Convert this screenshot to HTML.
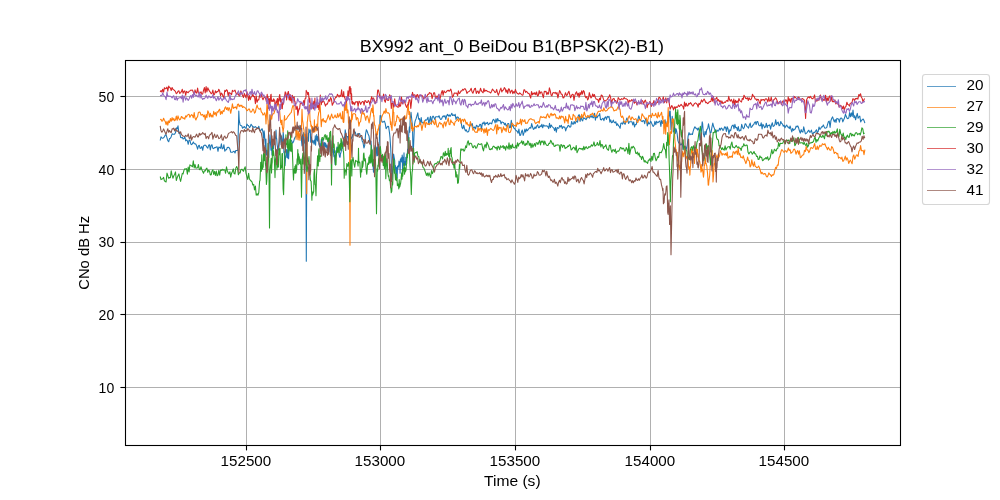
<!DOCTYPE html>
<html><head><meta charset="utf-8"><title>BX992 ant_0 BeiDou B1(BPSK(2)-B1)</title>
<style>
html,body{margin:0;padding:0;background:#fff;}
body{width:1000px;height:500px;overflow:hidden;font-family:"Liberation Sans",sans-serif;}
svg{display:block;will-change:transform;}
text{font-family:"Liberation Sans",sans-serif;fill:#000;}
.g line{stroke:#b0b0b0;stroke-width:1;}
.t line{stroke:#000;stroke-width:1.1;}
.d path{fill:none;stroke-width:1.08;stroke-linejoin:round;stroke-linecap:butt;}
.lab text{font-size:14.2px;}
.leg text{font-size:14.2px;}
</style></head><body>
<svg width="1000" height="500" viewBox="0 0 1000 500">
<rect x="0" y="0" width="1000" height="500" fill="#ffffff"/>
<g class="g"><line x1="246.50" y1="60.5" x2="246.50" y2="445.5"/><line x1="380.50" y1="60.5" x2="380.50" y2="445.5"/><line x1="515.50" y1="60.5" x2="515.50" y2="445.5"/><line x1="650.50" y1="60.5" x2="650.50" y2="445.5"/><line x1="784.50" y1="60.5" x2="784.50" y2="445.5"/><line x1="125.5" y1="387.50" x2="900.5" y2="387.50"/><line x1="125.5" y1="314.50" x2="900.5" y2="314.50"/><line x1="125.5" y1="242.50" x2="900.5" y2="242.50"/><line x1="125.5" y1="169.50" x2="900.5" y2="169.50"/><line x1="125.5" y1="96.50" x2="900.5" y2="96.50"/></g>
<clipPath id="c"><rect x="125.5" y="60.5" width="775" height="385"/></clipPath>
<g class="d" clip-path="url(#c)">
<path d="M160.2,140.5 L161.0,136.8 L161.9,138.0 L162.7,138.2 L163.6,137.7 L164.4,136.8 L165.3,134.9 L166.1,134.8 L167.0,137.9 L167.8,140.6 L168.7,141.8 L169.5,138.6 L170.4,138.2 L171.2,136.7 L172.1,133.8 L172.9,134.3 L173.8,134.2 L174.6,134.1 L175.5,132.8 L176.3,127.8 L177.2,128.9 L178.0,125.8 L178.9,133.4 L179.7,132.2 L180.6,137.4 L181.4,137.7 L182.3,137.3 L183.1,139.0 L184.0,138.6 L184.8,136.7 L185.7,140.9 L186.5,139.9 L187.4,140.9 L188.2,144.3 L189.1,140.2 L189.9,140.0 L190.8,144.0 L191.6,144.7 L192.5,143.7 L193.3,141.9 L194.2,143.6 L195.0,143.7 L195.9,144.3 L196.7,146.1 L197.6,149.2 L198.4,146.0 L199.3,145.3 L200.1,148.4 L201.0,148.1 L201.8,146.5 L202.7,150.3 L203.5,146.2 L204.4,145.2 L205.2,145.1 L206.1,145.8 L206.9,147.2 L207.8,148.2 L208.6,145.3 L209.5,144.7 L210.3,150.0 L211.2,145.2 L212.0,144.8 L212.9,148.3 L213.7,148.6 L214.6,147.5 L215.4,147.6 L216.3,147.0 L217.1,146.8 L218.0,151.3 L218.8,147.0 L219.7,147.5 L220.5,148.3 L221.4,143.9 L222.2,148.9 L223.1,148.3 L223.9,144.7 L224.8,151.3 L225.6,149.8 L226.5,149.7 L227.3,147.5 L228.2,147.2 L229.0,147.6 L229.9,149.0 L230.7,152.2 L231.6,152.3 L232.4,152.2 L233.3,151.6 L234.1,151.3 L235.0,153.0 L235.8,150.5 L236.7,150.5 L237.8,150.4 L238.4,126.5 L238.8,111.1 L239.2,119.6 L240.0,124.8 L240.9,125.6 L241.8,126.0 L242.6,128.2 L243.5,127.3 L244.3,126.5 L245.2,128.1 L246.0,128.3 L246.9,124.1 L247.7,125.3 L248.6,125.6 L249.4,127.6 L250.3,126.6 L251.1,124.3 L252.0,125.5 L252.8,127.1 L253.7,126.9 L254.5,127.4 L255.4,126.6 L256.2,127.4 L257.1,127.9 L257.9,128.6 L258.8,126.2 L259.6,130.1 L260.5,131.3 L261.3,129.5 L262.2,128.8 L263.0,132.4 L263.4,138.0 L263.8,138.1 L264.1,130.9 L264.5,134.1 L264.8,139.6 L265.2,143.6 L265.6,147.4 L265.9,139.1 L266.3,154.9 L266.6,154.2 L267.0,150.3 L267.4,156.3 L268.0,154.1 L268.4,154.5 L268.8,157.6 L269.2,144.1 L269.5,141.9 L270.0,134.9 L270.6,144.9 L271.0,150.3 L271.7,148.3 L272.0,154.9 L272.4,145.7 L272.8,151.0 L273.1,145.2 L273.5,148.6 L273.8,143.9 L274.2,140.3 L274.6,136.8 L274.9,139.4 L275.3,136.8 L275.7,138.3 L276.0,130.0 L276.4,138.0 L276.7,139.0 L277.1,144.5 L277.5,146.9 L277.8,153.6 L278.2,149.5 L278.5,149.8 L278.9,148.3 L279.3,142.6 L279.6,142.4 L280.0,133.0 L280.3,135.3 L280.7,134.4 L281.1,144.5 L281.4,136.0 L281.8,141.6 L282.1,140.4 L282.5,142.5 L282.9,137.9 L283.2,132.4 L283.6,137.1 L283.9,152.7 L284.3,151.3 L284.7,160.3 L285.0,165.8 L285.4,159.4 L285.7,155.9 L286.1,157.5 L286.5,149.6 L286.8,150.8 L287.2,154.2 L287.5,158.0 L287.9,148.0 L288.3,147.7 L288.6,158.8 L289.0,151.4 L289.3,150.8 L289.7,145.4 L290.1,145.7 L290.9,140.2 L291.8,140.9 L292.6,143.1 L293.5,141.8 L294.3,139.0 L295.2,136.9 L296.0,136.9 L296.9,128.8 L297.7,129.0 L298.6,126.2 L299.4,129.5 L300.3,125.7 L300.6,135.8 L301.0,135.9 L302.0,146.0 L302.4,135.9 L302.8,143.2 L303.1,145.0 L303.5,132.5 L304.0,134.7 L304.6,143.2 L304.9,140.3 L305.3,153.9 L305.9,150.7 L306.3,261.2 L306.8,150.8 L307.5,137.0 L307.8,138.3 L308.2,133.3 L308.5,141.3 L308.9,129.0 L309.3,132.4 L309.6,132.3 L310.0,132.3 L310.3,129.7 L310.7,142.2 L311.1,136.9 L311.4,137.0 L311.8,139.9 L312.1,142.7 L313.0,140.4 L313.8,143.2 L314.2,144.2 L314.6,139.9 L314.9,142.9 L315.3,135.9 L315.6,145.2 L316.0,138.3 L316.4,139.4 L316.7,134.6 L317.1,139.9 L317.4,141.1 L317.8,136.6 L318.2,139.8 L318.5,136.9 L318.9,144.6 L319.2,145.2 L319.6,146.7 L320.0,145.8 L320.3,147.7 L320.7,143.3 L321.0,142.4 L321.4,139.2 L321.8,140.3 L322.1,139.3 L322.5,139.3 L322.8,140.9 L323.2,146.7 L323.6,144.1 L323.9,146.7 L324.3,142.5 L324.6,146.0 L325.0,142.7 L325.4,146.8 L325.7,143.4 L326.1,147.6 L326.4,145.5 L326.8,145.1 L327.2,145.8 L327.5,150.4 L327.9,147.0 L328.2,149.2 L328.6,140.9 L329.0,145.8 L329.3,142.2 L329.7,147.2 L330.0,152.0 L330.4,147.9 L330.8,140.9 L331.1,145.5 L331.5,150.6 L331.8,147.8 L332.2,147.6 L332.6,147.8 L332.9,152.4 L333.3,148.6 L333.6,154.5 L334.0,156.8 L334.4,155.0 L334.7,157.8 L335.1,164.4 L335.4,158.3 L335.8,150.9 L336.2,153.4 L336.5,152.4 L336.9,147.1 L337.2,151.2 L337.6,149.1 L338.0,147.5 L338.3,147.1 L338.7,147.6 L339.0,154.0 L339.4,156.0 L339.8,157.3 L340.1,157.2 L340.5,153.3 L340.8,153.2 L341.2,151.3 L341.6,149.6 L341.9,143.8 L342.3,146.4 L342.6,144.1 L343.0,141.9 L343.4,144.0 L343.7,145.0 L344.1,137.0 L344.4,138.2 L344.8,136.6 L345.2,129.8 L346.0,134.6 L346.9,136.7 L347.7,136.6 L348.6,143.4 L349.4,144.2 L350.3,141.1 L351.1,137.1 L352.0,138.4 L352.8,134.4 L353.7,133.9 L354.5,131.5 L355.4,132.3 L356.2,136.0 L357.1,135.2 L357.9,133.5 L358.8,134.2 L359.6,133.5 L360.5,136.6 L361.3,137.2 L362.2,140.9 L363.0,142.5 L363.9,148.0 L364.7,145.5 L365.6,133.8 L366.4,129.7 L367.3,131.6 L368.1,134.0 L369.0,135.9 L369.8,142.1 L371.0,141.0 L371.5,147.8 L371.9,150.8 L372.2,163.5 L372.6,164.5 L372.9,163.1 L373.5,172.1 L374.0,164.0 L374.4,157.8 L375.0,145.8 L375.5,145.5 L375.8,148.8 L376.2,156.0 L376.5,152.2 L376.9,147.6 L377.3,146.8 L377.6,155.8 L378.0,151.7 L378.3,145.8 L378.7,147.6 L379.1,146.5 L379.4,139.9 L379.8,123.2 L380.1,115.6 L381.0,115.7 L381.8,121.5 L382.7,122.2 L383.5,121.8 L384.4,121.1 L385.2,123.4 L386.1,128.7 L386.9,127.4 L387.8,126.2 L388.6,126.6 L389.5,132.9 L390.0,137.6 L390.7,148.1 L391.1,157.6 L391.4,165.4 L392.0,179.6 L392.5,173.3 L392.9,166.7 L393.2,165.7 L393.6,154.0 L394.0,156.6 L394.7,160.6 L395.0,168.9 L395.4,165.6 L396.0,173.8 L396.5,167.8 L396.8,167.2 L397.2,177.9 L397.5,166.2 L397.9,168.7 L398.3,165.4 L398.6,166.8 L399.0,161.1 L399.3,162.5 L399.7,162.3 L400.1,173.3 L400.4,159.2 L400.8,161.2 L401.1,157.7 L401.5,162.0 L401.9,160.4 L402.2,155.1 L402.6,171.5 L402.9,157.1 L403.3,158.1 L403.7,165.3 L404.0,152.9 L404.4,165.4 L404.7,161.3 L405.1,163.5 L405.5,165.2 L405.8,157.3 L406.2,162.2 L406.5,161.5 L406.9,154.1 L407.3,155.9 L407.6,149.1 L408.0,150.6 L408.3,141.6 L408.7,135.3 L409.1,130.3 L409.4,126.8 L409.8,132.3 L410.1,120.5 L411.0,112.2 L411.8,119.8 L412.5,126.3 L413.0,154.2 L413.5,147.4 L414.5,124.3 L415.2,120.9 L416.1,118.7 L416.9,115.8 L417.8,112.8 L418.6,119.3 L419.5,118.6 L420.3,124.8 L421.2,117.5 L422.0,123.0 L422.9,122.8 L423.7,122.7 L424.6,121.6 L425.4,119.9 L426.3,120.1 L427.1,119.3 L428.0,117.3 L428.8,124.4 L429.7,119.6 L430.5,116.4 L431.4,124.3 L432.2,117.4 L433.1,116.1 L433.9,117.4 L434.8,119.6 L435.6,116.9 L436.5,116.8 L437.3,116.8 L438.2,117.1 L439.0,115.7 L439.9,118.3 L440.7,119.4 L441.6,119.0 L442.4,116.9 L443.3,115.9 L444.1,116.9 L445.0,115.6 L445.8,119.5 L446.7,115.7 L447.5,114.4 L448.4,116.1 L449.2,114.9 L450.1,116.4 L450.9,115.0 L451.8,113.3 L452.6,115.5 L453.5,114.9 L454.3,115.7 L455.2,114.3 L456.0,119.4 L456.9,117.1 L457.7,117.0 L458.6,117.9 L459.4,119.4 L460.3,119.0 L461.1,122.1 L462.0,127.6 L462.8,128.7 L463.7,125.2 L464.5,128.5 L465.4,130.9 L466.2,129.8 L467.1,131.9 L467.9,132.0 L468.8,131.2 L469.6,127.4 L470.5,123.8 L471.3,125.3 L472.2,123.6 L473.0,127.1 L473.9,128.3 L474.7,126.9 L475.6,128.9 L476.4,125.3 L477.3,126.0 L478.1,126.9 L479.0,126.3 L479.8,124.4 L480.7,124.6 L481.5,129.2 L482.4,123.0 L483.2,123.7 L484.1,121.9 L484.9,125.2 L485.8,122.9 L486.6,123.5 L487.5,122.4 L488.3,124.8 L489.2,123.9 L490.0,122.9 L490.9,123.3 L491.7,123.9 L492.6,120.7 L493.4,119.4 L494.3,120.4 L495.1,122.9 L496.0,118.8 L496.8,122.2 L497.7,118.5 L498.5,120.7 L499.4,120.6 L500.2,120.6 L501.1,123.9 L501.9,121.9 L502.8,122.3 L503.6,122.5 L504.5,124.7 L505.3,123.2 L506.2,126.2 L507.0,125.0 L507.9,123.5 L508.7,123.5 L509.6,127.8 L510.4,127.4 L511.3,120.4 L512.1,126.1 L513.0,125.3 L513.8,128.1 L514.7,128.5 L515.5,129.9 L516.4,130.8 L517.2,131.3 L518.1,133.2 L518.9,129.1 L519.8,135.5 L520.6,135.2 L521.5,131.8 L522.3,130.0 L523.2,135.4 L524.0,132.9 L524.9,129.1 L525.7,132.1 L526.6,129.0 L527.4,130.7 L528.3,129.5 L529.1,128.3 L530.0,127.5 L530.8,128.2 L531.7,123.6 L532.5,126.8 L533.4,129.4 L534.2,128.8 L535.1,126.9 L535.9,128.4 L536.8,126.0 L537.6,124.7 L538.5,127.6 L539.3,127.6 L540.2,125.7 L541.0,126.8 L541.9,124.3 L542.7,127.8 L543.6,124.9 L544.4,125.9 L545.3,126.0 L546.1,125.8 L547.0,126.0 L547.8,126.5 L548.7,128.6 L549.5,123.3 L550.4,127.6 L551.2,125.0 L552.1,126.5 L552.9,127.4 L553.8,128.2 L554.6,130.6 L555.5,127.4 L556.3,132.1 L557.2,127.5 L558.0,128.2 L558.9,128.2 L559.7,125.6 L560.6,126.9 L561.4,125.3 L562.3,128.6 L563.1,126.6 L564.0,127.3 L564.8,127.1 L565.7,130.9 L566.5,128.2 L567.4,127.1 L568.2,125.3 L569.1,126.0 L569.9,127.3 L570.8,126.6 L571.6,121.5 L572.5,123.9 L573.3,124.2 L574.2,121.5 L575.0,123.8 L575.9,121.9 L576.7,121.1 L577.6,122.1 L578.4,115.2 L579.3,114.8 L580.1,121.4 L581.0,116.0 L581.8,119.8 L582.7,120.9 L583.5,117.7 L584.4,118.2 L585.2,118.8 L586.1,119.6 L586.9,117.8 L587.8,117.7 L588.6,116.0 L589.5,118.1 L590.3,115.7 L591.2,117.2 L592.0,115.4 L592.9,117.7 L593.7,117.6 L594.6,113.2 L595.4,120.1 L596.3,115.5 L597.1,117.7 L598.0,115.7 L598.8,115.7 L599.7,113.6 L600.5,119.6 L601.4,119.9 L602.2,118.9 L603.1,118.3 L603.9,120.7 L604.8,117.7 L605.6,116.9 L606.5,119.4 L607.3,116.3 L608.2,117.1 L609.0,116.3 L609.9,122.2 L610.7,119.8 L611.6,122.8 L612.4,122.3 L613.3,120.1 L614.1,122.3 L615.0,122.9 L615.8,121.7 L616.7,125.4 L617.5,123.8 L618.4,125.4 L619.2,126.5 L620.1,128.3 L620.9,123.2 L621.8,123.0 L622.6,124.1 L623.5,121.1 L624.3,123.6 L625.2,124.2 L626.0,120.7 L626.9,118.0 L627.7,120.0 L628.6,123.4 L629.4,121.7 L630.3,121.8 L631.1,121.8 L632.0,121.8 L632.8,124.9 L633.7,121.9 L634.5,127.0 L635.4,124.4 L636.2,124.6 L637.1,120.6 L637.9,119.6 L638.8,115.9 L639.6,118.7 L640.5,120.0 L641.3,121.0 L642.2,121.6 L643.0,120.6 L643.9,120.8 L644.7,123.7 L645.6,119.0 L646.4,118.9 L647.3,125.9 L648.1,121.8 L649.0,124.1 L649.8,123.0 L650.7,121.2 L651.5,122.9 L652.4,125.1 L653.2,126.5 L654.1,125.3 L654.9,121.3 L655.8,124.6 L656.6,121.3 L657.5,122.8 L658.3,122.4 L659.2,121.4 L660.0,120.9 L660.9,126.5 L661.7,120.3 L662.6,123.4 L663.4,120.8 L664.3,121.8 L665.1,119.7 L666.0,126.4 L666.8,125.3 L667.2,121.0 L667.6,123.3 L667.9,123.3 L668.3,115.8 L668.6,122.8 L669.0,117.4 L669.4,115.4 L669.7,111.0 L670.2,111.1 L671.0,130.0 L671.5,126.5 L672.2,116.4 L672.6,119.6 L673.0,123.7 L673.3,131.9 L673.7,131.2 L674.0,127.8 L674.4,131.4 L674.8,128.0 L675.1,133.6 L675.5,133.2 L675.8,128.7 L676.2,129.1 L677.1,133.4 L677.9,140.6 L678.8,143.1 L679.6,142.1 L680.5,144.9 L681.3,144.8 L682.2,142.9 L683.0,149.4 L683.9,146.1 L684.7,146.3 L685.6,146.7 L686.4,149.3 L687.3,144.8 L688.1,136.1 L689.0,132.6 L689.8,134.8 L690.7,134.0 L691.5,134.1 L692.4,134.5 L693.2,131.2 L694.1,128.4 L694.9,126.7 L695.8,128.2 L696.6,128.3 L697.5,130.0 L698.3,127.9 L699.2,130.6 L700.0,140.2 L700.6,139.6 L701.7,127.6 L702.2,121.9 L702.6,123.4 L703.4,134.2 L703.8,134.9 L704.3,136.9 L705.1,131.4 L706.0,134.7 L706.8,129.4 L707.7,128.7 L708.5,123.8 L709.4,128.4 L710.2,133.1 L711.1,132.3 L711.9,127.4 L712.8,123.0 L713.6,126.5 L714.5,128.6 L715.3,132.2 L716.2,132.2 L717.0,130.1 L717.9,131.2 L718.7,130.6 L719.6,128.2 L720.4,130.1 L721.3,128.0 L722.1,128.6 L723.0,130.6 L723.8,129.2 L724.7,126.8 L725.5,127.2 L726.4,131.4 L727.2,126.7 L728.1,129.0 L728.9,134.1 L729.8,129.9 L730.6,130.8 L731.5,127.1 L732.3,125.4 L733.2,125.1 L734.0,128.6 L734.9,124.4 L735.7,127.7 L736.6,127.4 L737.4,130.4 L738.3,126.5 L739.1,131.2 L740.0,130.0 L740.8,130.6 L741.7,124.3 L742.5,127.0 L743.4,128.8 L744.2,127.7 L745.1,123.8 L745.9,124.1 L746.8,126.4 L747.6,126.9 L748.5,128.1 L749.3,125.3 L750.2,123.1 L751.0,127.5 L751.9,126.9 L752.7,125.3 L753.6,124.8 L754.4,122.9 L755.3,121.7 L756.1,124.6 L757.0,121.5 L757.8,121.6 L758.7,124.9 L759.5,125.8 L760.4,125.8 L761.2,122.8 L762.1,129.0 L762.9,124.2 L763.8,125.8 L764.6,127.7 L765.5,126.8 L766.3,123.2 L767.2,127.6 L768.0,125.4 L768.9,125.5 L769.7,124.9 L770.6,129.1 L771.4,125.4 L772.3,122.7 L773.1,126.5 L774.0,125.9 L774.8,124.8 L775.7,119.7 L776.5,124.7 L777.4,122.7 L778.2,122.1 L779.1,125.8 L779.9,125.2 L780.8,121.5 L781.6,123.4 L782.5,124.0 L783.3,126.2 L784.2,125.4 L785.0,127.7 L785.9,126.1 L786.7,125.0 L787.6,126.9 L788.4,127.0 L789.3,128.6 L790.1,126.0 L791.0,129.1 L791.8,131.9 L792.7,128.4 L793.5,130.4 L794.4,129.3 L795.2,129.1 L796.1,126.1 L796.9,127.0 L797.8,125.9 L798.6,127.8 L799.5,131.2 L800.3,133.1 L801.2,129.6 L802.0,131.7 L802.9,132.1 L803.7,126.9 L804.6,130.6 L805.4,133.9 L806.3,133.4 L807.1,132.5 L808.0,131.1 L808.8,130.2 L809.7,132.3 L810.5,132.1 L811.4,130.1 L812.2,133.4 L813.1,133.7 L813.9,132.2 L814.8,132.6 L815.6,131.1 L816.5,129.7 L817.3,132.6 L818.2,131.5 L819.0,127.0 L819.9,129.4 L820.7,128.6 L821.6,126.7 L822.4,126.9 L823.3,124.9 L824.1,126.8 L825.0,128.2 L825.8,128.0 L826.7,127.6 L827.5,124.6 L828.4,121.7 L829.2,121.1 L830.1,127.4 L830.9,120.7 L831.8,118.2 L832.6,116.9 L833.5,119.7 L834.3,121.9 L835.2,119.5 L836.0,122.4 L836.9,118.4 L837.7,118.7 L838.6,119.2 L839.4,122.2 L840.3,118.4 L841.1,118.0 L842.0,118.5 L842.8,121.9 L843.7,119.7 L844.5,118.1 L845.4,114.3 L846.2,116.2 L847.1,118.3 L847.9,118.7 L848.8,117.8 L849.6,112.5 L850.5,116.8 L851.3,112.8 L852.2,116.4 L853.0,110.0 L853.9,117.8 L854.7,115.7 L855.6,119.8 L856.4,116.4 L857.3,113.4 L858.1,118.3 L859.0,116.8 L859.8,116.1 L860.7,122.0 L861.5,120.2 L862.4,119.7 L863.2,119.0 L864.1,120.8 L864.9,123.2" stroke="#1f77b4"/>
<path d="M160.2,119.9 L161.0,119.3 L161.9,121.2 L162.7,120.8 L163.6,118.2 L164.4,120.3 L165.3,121.6 L166.1,124.7 L167.0,121.3 L167.8,125.2 L168.7,120.8 L169.5,122.6 L170.4,118.5 L171.2,121.3 L172.1,117.6 L172.9,120.3 L173.8,118.4 L174.6,120.7 L175.5,119.8 L176.3,116.1 L177.2,120.3 L178.0,115.8 L178.9,118.8 L179.7,119.9 L180.6,119.0 L181.4,116.5 L182.3,117.2 L183.1,118.6 L184.0,117.9 L184.8,119.2 L185.7,115.8 L186.5,117.0 L187.4,115.1 L188.2,114.6 L189.1,114.3 L189.9,117.3 L190.8,115.6 L191.6,114.6 L192.5,115.5 L193.3,117.8 L194.2,112.5 L195.0,118.1 L195.9,120.0 L196.7,117.8 L197.6,116.7 L198.4,112.4 L199.3,112.1 L200.1,112.3 L201.0,115.2 L201.8,114.7 L202.7,114.4 L203.5,116.7 L204.4,115.0 L205.2,119.8 L206.1,114.5 L206.9,117.7 L207.8,110.7 L208.6,112.4 L209.5,117.0 L210.3,113.2 L211.2,117.0 L212.0,115.0 L212.9,117.1 L213.7,111.3 L214.6,114.4 L215.4,112.6 L216.3,115.9 L217.1,111.7 L218.0,112.3 L218.8,110.3 L219.7,109.2 L220.5,114.4 L221.4,111.4 L222.2,113.8 L223.1,110.5 L223.9,111.5 L224.8,108.0 L225.6,106.9 L226.5,109.5 L227.3,107.6 L228.2,110.7 L229.0,107.6 L229.9,109.2 L230.7,113.3 L231.6,108.9 L232.4,103.8 L233.3,108.4 L234.1,107.4 L235.0,107.6 L235.8,106.8 L236.7,109.0 L237.5,104.4 L238.4,104.0 L239.2,106.6 L240.1,105.1 L240.9,106.3 L241.8,105.2 L242.6,107.5 L243.5,106.6 L244.3,107.1 L245.2,107.9 L246.0,108.7 L246.9,110.8 L247.7,110.2 L248.6,109.1 L249.4,109.0 L250.3,111.8 L251.1,112.2 L252.0,111.1 L252.8,109.0 L253.7,109.9 L254.5,113.2 L255.4,112.1 L256.2,108.2 L257.1,105.0 L257.9,107.8 L258.8,109.0 L259.6,109.2 L260.5,108.1 L261.3,111.8 L262.2,112.9 L263.0,115.1 L263.9,114.2 L264.7,112.8 L265.6,116.5 L266.0,124.0 L267.0,103.9 L267.4,105.9 L267.8,118.8 L268.1,120.8 L268.5,131.7 L269.2,131.0 L269.6,130.6 L269.9,123.0 L270.3,123.2 L270.6,120.1 L271.0,114.7 L271.4,117.6 L271.7,119.2 L272.1,116.1 L272.9,113.8 L273.8,113.7 L274.6,111.5 L275.5,106.0 L276.3,106.9 L277.2,105.6 L278.0,101.4 L278.9,105.5 L279.7,111.2 L280.6,122.5 L280.9,120.2 L281.3,124.8 L281.7,121.6 L282.0,120.0 L282.4,127.5 L282.7,128.7 L283.1,132.3 L283.5,128.8 L283.8,127.7 L284.2,119.4 L284.5,115.5 L284.9,120.2 L285.3,119.7 L286.1,119.5 L287.0,118.1 L287.8,116.6 L288.7,115.4 L289.5,114.7 L290.4,113.1 L291.2,112.6 L292.1,108.4 L292.9,105.6 L293.8,106.0 L294.6,118.4 L295.0,125.8 L295.3,127.8 L295.7,126.9 L296.1,139.2 L296.4,131.0 L296.8,133.5 L297.1,130.6 L297.5,134.6 L297.9,139.5 L298.2,139.9 L298.6,131.6 L298.9,137.2 L299.3,133.9 L299.7,138.8 L300.0,140.5 L300.4,130.3 L301.0,130.8 L301.5,126.0 L302.0,109.3 L302.5,120.2 L303.0,122.8 L303.6,128.7 L304.0,129.9 L304.3,136.1 L304.7,136.4 L305.1,134.3 L305.4,144.6 L305.8,150.9 L306.2,148.9 L306.7,193.7 L307.2,122.2 L307.6,120.3 L307.9,116.6 L308.3,114.3 L309.0,106.1 L309.4,105.0 L309.7,110.6 L310.1,121.2 L310.5,121.0 L311.0,126.4 L311.5,125.2 L311.9,131.3 L312.3,127.0 L312.6,126.5 L313.0,132.5 L313.3,129.3 L313.7,132.1 L314.1,131.2 L314.4,119.9 L314.8,132.0 L315.1,128.4 L315.5,129.1 L315.9,126.1 L316.2,130.9 L316.6,126.7 L316.9,124.0 L317.3,126.0 L317.7,126.5 L318.0,116.9 L318.4,115.0 L318.7,112.4 L319.1,112.3 L319.5,109.1 L319.8,101.9 L320.2,107.0 L320.5,112.0 L320.9,120.2 L321.3,126.6 L321.6,122.8 L322.0,119.5 L322.3,121.0 L323.2,118.5 L324.0,122.0 L324.9,120.5 L325.7,122.5 L326.6,120.4 L327.4,118.3 L328.3,114.8 L329.1,117.4 L330.0,120.0 L330.8,116.6 L331.7,114.0 L332.5,117.7 L333.4,118.1 L334.2,116.9 L335.1,114.9 L335.9,117.3 L336.8,117.8 L337.6,113.5 L338.5,117.1 L339.3,115.8 L340.2,112.9 L341.0,118.2 L341.9,118.9 L342.7,111.2 L343.1,121.8 L343.5,122.5 L343.8,122.2 L344.2,116.0 L344.5,103.0 L344.9,103.8 L345.3,110.3 L345.6,102.4 L346.0,110.1 L346.3,101.4 L346.7,103.3 L347.1,112.9 L347.4,112.1 L347.8,109.9 L348.1,111.4 L348.5,123.0 L348.9,121.5 L349.2,130.7 L349.6,140.4 L350.0,245.2 L350.4,138.4 L351.0,118.9 L351.4,121.9 L351.7,111.5 L352.1,119.6 L352.9,114.1 L353.8,113.6 L354.6,113.8 L355.5,114.2 L356.3,119.9 L357.2,117.5 L358.0,118.5 L358.9,126.1 L359.7,122.4 L360.6,121.6 L361.4,115.6 L362.3,110.3 L363.1,114.1 L364.0,113.2 L364.8,116.0 L365.7,120.3 L366.5,116.4 L367.4,115.9 L368.2,118.5 L369.1,122.9 L369.9,118.1 L370.8,111.8 L371.6,108.3 L372.5,112.6 L372.9,104.8 L373.2,107.5 L373.6,116.1 L373.9,115.4 L374.3,122.8 L374.7,125.4 L375.0,125.3 L375.4,128.5 L375.7,131.2 L376.1,135.3 L376.5,135.5 L376.8,137.6 L377.2,131.5 L377.5,134.8 L377.9,129.0 L378.3,130.3 L379.1,124.7 L380.0,125.1 L380.8,121.8 L381.7,117.4 L382.5,115.0 L383.4,113.5 L384.2,111.0 L385.1,113.4 L385.9,108.6 L386.8,112.5 L387.6,112.9 L388.5,112.9 L389.3,113.8 L390.2,119.7 L390.5,124.5 L390.9,121.7 L391.2,126.8 L391.6,127.7 L392.0,130.4 L393.0,105.3 L393.4,112.4 L393.8,112.2 L394.1,124.1 L394.5,126.0 L395.2,125.7 L395.6,123.7 L395.9,121.2 L396.3,121.5 L397.1,115.3 L398.0,117.3 L398.8,117.6 L399.7,121.6 L400.5,119.7 L401.4,119.2 L402.2,118.6 L403.1,121.9 L403.9,118.4 L404.8,115.5 L405.6,119.1 L406.5,118.2 L407.3,111.0 L408.2,102.4 L408.5,108.3 L408.9,114.5 L409.3,114.1 L409.6,111.5 L410.0,118.8 L410.3,118.7 L410.7,121.9 L411.1,122.3 L411.4,128.4 L411.8,123.4 L412.1,130.6 L412.5,126.9 L412.9,131.3 L413.2,129.3 L413.6,128.4 L413.9,128.6 L414.3,126.5 L415.1,126.7 L416.0,126.1 L416.8,127.3 L417.7,125.5 L418.5,126.7 L419.4,124.0 L420.2,122.3 L421.1,124.9 L421.9,130.4 L422.8,125.3 L423.6,123.4 L424.5,120.8 L425.3,127.5 L426.2,122.4 L427.0,123.2 L427.9,124.5 L428.7,123.6 L429.6,124.6 L430.4,123.1 L431.3,123.5 L432.1,121.4 L433.0,120.7 L433.8,123.5 L434.7,124.6 L435.5,119.4 L436.4,124.6 L437.2,127.0 L438.1,126.9 L438.9,123.5 L439.8,122.2 L440.6,124.1 L441.5,123.5 L442.3,124.8 L443.2,127.9 L444.0,122.9 L444.9,121.8 L445.7,126.2 L446.6,122.4 L447.4,120.9 L448.3,118.0 L449.1,124.5 L450.0,124.7 L450.8,119.9 L451.7,122.3 L452.5,122.3 L453.4,123.5 L454.2,125.4 L455.1,121.9 L455.9,121.2 L456.8,120.2 L457.6,118.8 L458.5,121.4 L459.3,119.7 L460.2,118.3 L461.0,123.3 L461.9,119.7 L462.7,119.4 L463.6,121.7 L464.4,119.0 L465.3,120.3 L466.1,124.2 L467.0,122.3 L467.8,124.9 L468.7,124.9 L469.5,126.6 L470.4,121.5 L471.2,125.0 L472.1,126.5 L472.9,130.3 L473.8,128.8 L474.6,131.3 L475.5,132.3 L476.3,132.1 L477.2,132.5 L478.0,127.4 L478.9,130.9 L479.7,128.6 L480.6,128.4 L481.4,131.5 L482.3,128.6 L483.1,129.2 L484.0,133.1 L484.8,128.7 L485.7,132.4 L486.5,127.8 L487.4,135.4 L488.2,129.5 L489.1,130.5 L489.9,129.4 L490.8,128.4 L491.6,129.1 L492.5,129.9 L493.3,130.5 L494.2,129.2 L495.0,126.3 L495.9,124.6 L496.7,133.9 L497.6,124.8 L498.4,129.8 L499.3,127.3 L500.1,128.1 L501.0,127.4 L501.8,132.6 L502.7,129.8 L503.5,126.8 L504.4,130.1 L505.2,128.5 L506.1,131.7 L506.9,127.0 L507.8,124.8 L508.6,132.1 L509.5,132.6 L510.3,132.2 L511.2,129.8 L512.0,123.0 L512.9,124.0 L513.7,125.1 L514.6,125.8 L515.4,125.2 L516.3,126.4 L517.1,122.3 L518.0,124.3 L518.8,123.2 L519.7,123.5 L520.5,119.1 L521.4,125.0 L522.2,119.6 L523.1,120.9 L523.9,121.6 L524.8,119.6 L525.6,123.5 L526.5,123.0 L527.3,123.3 L528.2,121.1 L529.0,119.8 L529.9,119.1 L530.7,118.7 L531.6,119.1 L532.4,119.8 L533.3,120.0 L534.1,119.8 L535.0,122.7 L535.8,123.7 L536.7,122.5 L537.5,122.2 L538.4,121.5 L539.2,123.2 L540.1,118.0 L540.9,116.3 L541.8,117.5 L542.6,117.4 L543.5,116.8 L544.3,117.7 L545.2,117.0 L546.0,118.3 L546.9,114.9 L547.7,113.9 L548.6,116.7 L549.4,117.7 L550.3,114.8 L551.1,113.2 L552.0,115.8 L552.8,114.2 L553.7,115.3 L554.5,113.8 L555.4,114.7 L556.2,118.1 L557.1,117.7 L557.9,118.2 L558.8,118.9 L559.6,116.0 L560.5,118.8 L561.3,116.0 L562.2,117.1 L563.0,116.4 L563.9,119.1 L564.7,122.9 L565.6,116.3 L566.4,121.0 L567.3,119.7 L568.1,123.4 L569.0,114.5 L569.8,116.5 L570.7,119.3 L571.5,118.9 L572.4,119.7 L573.2,114.2 L574.1,115.7 L574.9,115.9 L575.8,121.2 L576.6,118.1 L577.5,117.2 L578.3,116.6 L579.2,120.3 L580.0,117.1 L580.9,117.8 L581.7,114.2 L582.6,117.7 L583.4,115.8 L584.3,112.1 L585.1,115.0 L586.0,117.3 L586.8,117.2 L587.7,115.4 L588.5,116.7 L589.4,117.1 L590.2,114.8 L591.1,114.1 L591.9,114.5 L592.8,113.1 L593.6,115.3 L594.5,116.0 L595.3,116.4 L596.2,116.5 L597.0,114.0 L597.9,112.1 L598.7,111.2 L599.6,111.3 L600.4,111.5 L601.3,109.8 L602.1,110.3 L603.0,111.2 L603.8,107.8 L604.7,110.2 L605.5,111.1 L606.4,110.7 L607.2,110.3 L608.1,108.8 L608.9,108.0 L609.8,107.8 L610.6,106.7 L611.5,107.1 L612.3,107.1 L613.2,108.7 L614.0,111.0 L614.9,110.4 L615.7,110.1 L616.6,110.1 L617.4,108.2 L618.3,106.5 L619.1,108.3 L620.0,109.2 L620.8,116.0 L621.7,117.4 L622.5,116.0 L623.4,118.2 L624.2,122.1 L625.1,121.9 L625.9,121.9 L626.8,121.9 L627.6,120.4 L628.5,117.2 L629.3,115.8 L630.2,118.4 L631.0,120.2 L631.9,117.0 L632.7,117.7 L633.6,119.3 L634.4,119.6 L635.3,118.8 L636.1,118.8 L637.0,121.8 L637.8,122.6 L638.7,119.9 L639.5,119.3 L640.4,120.8 L641.2,118.9 L642.1,113.7 L642.9,115.3 L643.8,116.3 L644.6,118.4 L645.5,118.2 L646.3,117.9 L647.2,123.1 L648.0,119.2 L648.9,115.4 L649.7,116.2 L650.6,115.1 L651.4,117.5 L652.3,113.2 L653.1,115.4 L654.0,115.7 L654.8,115.5 L655.7,113.3 L656.5,116.4 L657.4,118.0 L658.2,112.4 L659.1,117.0 L659.9,115.5 L660.8,114.3 L661.6,112.3 L662.5,119.3 L662.9,116.3 L663.2,122.7 L663.6,120.7 L663.9,133.7 L664.3,128.8 L664.7,120.4 L665.0,123.4 L665.4,126.9 L665.7,134.3 L666.1,124.0 L666.5,124.3 L666.8,122.9 L667.4,126.8 L668.2,107.5 L668.6,120.6 L669.0,134.3 L669.4,144.8 L670.1,136.3 L670.4,131.7 L671.0,131.7 L671.5,133.4 L671.9,126.2 L672.2,118.9 L672.6,121.9 L672.9,120.5 L673.4,118.9 L674.0,128.8 L674.4,130.9 L675.0,141.7 L675.5,146.1 L675.8,151.7 L676.2,149.5 L676.5,153.9 L676.9,154.4 L677.3,152.2 L677.6,161.0 L678.0,159.1 L678.3,166.1 L678.7,159.8 L679.1,167.4 L679.4,165.4 L679.8,170.0 L680.1,167.4 L680.5,169.3 L680.9,164.1 L681.2,161.4 L681.6,162.0 L681.9,157.3 L682.3,156.1 L682.7,151.3 L683.0,153.2 L683.4,153.1 L683.7,156.8 L684.1,154.1 L684.5,153.0 L684.8,146.2 L685.2,151.8 L685.5,154.2 L685.9,158.4 L686.3,156.3 L686.6,157.2 L687.0,157.7 L687.3,159.7 L687.7,158.8 L688.1,159.6 L688.4,165.8 L688.8,168.9 L689.1,166.6 L689.5,169.3 L689.9,175.1 L690.2,168.5 L690.6,165.7 L690.9,156.0 L691.3,150.4 L691.7,149.0 L692.0,153.0 L692.4,151.3 L692.7,149.0 L693.1,155.9 L693.5,157.1 L693.8,152.5 L694.2,158.0 L694.5,163.4 L694.9,154.2 L695.3,153.3 L695.6,151.6 L696.0,149.3 L696.3,147.0 L696.7,154.1 L697.1,152.4 L697.4,149.3 L697.8,157.0 L698.1,153.8 L698.5,157.1 L698.9,161.7 L699.2,160.9 L699.6,160.9 L699.9,162.6 L700.3,165.0 L700.7,168.6 L701.0,172.2 L701.4,170.9 L701.7,164.5 L702.1,170.6 L702.5,169.3 L702.8,170.7 L703.2,175.2 L703.5,177.1 L703.9,173.5 L704.3,164.7 L704.6,165.6 L705.0,159.6 L705.3,157.5 L705.7,163.4 L706.1,163.1 L706.4,164.7 L706.8,165.8 L707.1,169.2 L707.5,172.9 L707.9,178.8 L708.2,185.1 L708.6,185.2 L708.9,181.0 L709.3,178.1 L709.7,175.2 L710.2,166.2 L710.7,163.5 L711.1,151.0 L711.5,150.0 L711.8,154.2 L712.2,150.5 L713.0,181.9 L713.6,174.8 L714.2,163.6 L714.7,164.5 L715.1,157.3 L715.4,166.2 L715.8,161.4 L716.1,158.1 L717.0,154.8 L717.8,158.7 L718.7,157.4 L719.5,156.0 L720.4,150.7 L721.2,152.4 L722.1,155.3 L722.9,153.6 L723.8,154.1 L724.6,154.9 L725.5,153.4 L726.3,155.6 L727.2,152.1 L728.0,158.1 L728.9,157.7 L729.7,156.2 L730.6,157.2 L731.4,156.1 L732.3,157.4 L733.1,151.9 L734.0,151.9 L734.8,154.0 L735.7,151.7 L736.5,151.0 L737.4,154.4 L738.2,148.3 L739.1,155.0 L739.9,153.6 L740.8,157.5 L741.6,157.1 L742.5,158.0 L743.3,155.7 L744.2,159.3 L745.0,161.0 L745.9,163.6 L746.7,161.1 L747.6,157.1 L748.4,160.3 L749.3,160.9 L750.1,166.9 L751.0,165.4 L751.8,159.9 L752.7,164.3 L753.5,166.2 L754.4,161.9 L755.2,166.3 L756.1,166.9 L756.9,167.8 L757.8,167.1 L758.6,166.0 L759.5,168.0 L760.3,170.5 L761.2,173.8 L762.0,172.3 L762.9,173.7 L763.7,174.2 L764.6,173.5 L765.4,173.7 L766.3,176.2 L767.1,177.0 L768.0,175.6 L768.8,172.9 L769.7,174.3 L770.5,174.8 L771.4,176.6 L772.2,174.8 L773.1,175.2 L773.9,174.3 L774.8,170.3 L775.6,167.3 L776.5,168.5 L777.3,165.0 L778.2,165.3 L779.0,157.7 L779.9,156.0 L780.7,152.8 L781.6,149.7 L782.4,150.0 L783.3,151.5 L784.1,152.4 L785.0,150.8 L785.8,150.9 L786.7,152.2 L787.5,150.5 L788.4,148.0 L789.2,150.5 L790.1,149.7 L790.9,153.5 L791.8,152.3 L792.6,152.1 L793.5,149.6 L794.3,149.0 L795.2,150.6 L796.0,154.2 L796.9,151.7 L797.7,150.5 L798.6,154.2 L799.4,150.8 L800.3,157.8 L801.1,157.3 L802.0,155.7 L802.8,155.0 L803.7,154.7 L804.5,150.2 L805.4,151.5 L806.2,146.4 L807.1,150.1 L807.9,150.0 L808.8,152.7 L809.6,151.3 L810.5,148.2 L811.3,147.5 L812.2,148.5 L813.0,148.1 L813.9,145.8 L814.7,143.5 L815.6,149.3 L816.4,149.3 L817.3,146.1 L818.1,149.6 L819.0,147.2 L819.8,145.2 L820.7,146.3 L821.5,146.1 L822.4,143.7 L823.2,144.3 L824.1,144.7 L824.9,143.7 L825.8,146.3 L826.6,147.6 L827.5,149.7 L828.3,147.2 L829.2,148.9 L830.0,150.2 L830.9,150.1 L831.7,146.5 L832.6,147.6 L833.4,149.8 L834.3,153.5 L835.1,152.4 L836.0,152.5 L836.8,153.9 L837.7,153.4 L838.5,158.1 L839.4,157.3 L840.2,157.8 L841.1,159.0 L841.9,157.1 L842.8,161.3 L843.6,160.9 L844.5,158.6 L845.3,156.1 L846.2,160.2 L847.0,157.7 L847.9,159.7 L848.7,163.5 L849.6,161.3 L850.4,160.1 L851.3,162.1 L852.1,163.8 L853.0,156.6 L853.8,154.9 L854.7,159.2 L855.5,157.1 L856.4,154.9 L857.2,155.1 L858.1,156.5 L858.9,151.2 L859.8,150.3 L860.6,145.5 L861.5,150.8 L862.3,150.8 L863.2,150.4 L864.0,154.7 L864.9,149.6" stroke="#ff7f0e"/>
<path d="M160.2,176.5 L161.0,179.6 L161.9,179.0 L162.7,178.8 L163.6,177.4 L164.4,180.8 L165.3,181.5 L166.1,182.0 L167.0,173.1 L167.8,175.5 L168.7,178.3 L169.5,177.5 L170.4,177.6 L171.2,170.7 L172.1,175.3 L172.9,178.2 L173.8,175.7 L174.6,174.5 L175.5,171.9 L176.3,180.5 L177.2,177.6 L178.0,175.8 L178.9,173.9 L179.7,178.2 L180.6,181.4 L181.4,177.6 L182.3,173.4 L183.1,173.9 L184.0,170.2 L184.8,168.7 L185.7,169.1 L186.5,168.6 L187.4,174.1 L188.2,167.1 L189.1,172.0 L189.9,164.9 L190.8,165.4 L191.6,166.0 L192.5,166.7 L193.3,160.7 L194.2,167.9 L195.0,164.5 L195.9,168.1 L196.7,168.0 L197.6,167.8 L198.4,164.5 L199.3,169.4 L200.1,169.7 L201.0,166.7 L201.8,169.6 L202.7,171.6 L203.5,173.2 L204.4,170.7 L205.2,171.0 L206.1,168.9 L206.9,168.1 L207.8,172.4 L208.6,170.2 L209.5,171.2 L210.3,174.9 L211.2,174.8 L212.0,171.0 L212.9,169.8 L213.7,174.4 L214.6,171.3 L215.4,175.5 L216.3,171.0 L217.1,175.8 L218.0,174.9 L218.8,170.4 L219.7,175.2 L220.5,170.0 L221.4,170.4 L222.2,169.2 L223.1,170.4 L223.9,169.6 L224.8,170.1 L225.6,173.3 L226.5,166.8 L227.3,170.7 L228.2,172.7 L229.0,173.9 L229.9,171.7 L230.7,177.1 L231.6,173.2 L232.4,171.5 L233.3,168.9 L234.1,173.6 L235.0,174.0 L235.8,168.2 L236.7,166.5 L237.5,168.4 L238.4,174.8 L239.2,172.7 L240.1,173.0 L240.9,169.7 L241.8,169.2 L242.6,170.2 L243.5,171.3 L244.3,168.7 L245.2,166.7 L246.0,173.1 L246.9,176.7 L247.7,179.4 L248.6,173.3 L249.4,178.9 L250.3,180.2 L251.1,181.0 L252.0,181.9 L252.8,185.0 L253.7,184.4 L254.5,190.0 L255.4,186.1 L256.2,195.3 L257.1,193.7 L257.9,195.3 L258.8,192.5 L259.6,181.3 L260.0,180.5 L260.4,171.8 L260.7,162.3 L261.1,163.3 L261.4,171.3 L261.8,154.7 L262.2,165.9 L262.5,169.1 L262.9,166.2 L263.2,167.2 L263.6,153.2 L264.0,159.5 L264.3,160.7 L265.0,150.0 L265.4,163.9 L265.8,166.9 L266.4,184.5 L266.8,180.6 L267.2,169.2 L267.6,160.3 L268.0,143.3 L268.6,155.1 L269.0,171.2 L269.5,227.9 L270.0,171.8 L270.4,166.3 L270.8,163.6 L271.2,158.3 L271.5,172.9 L271.9,164.6 L272.2,162.3 L272.6,146.3 L273.0,155.5 L273.5,150.9 L274.1,156.3 L274.4,160.0 L275.0,177.6 L275.5,159.4 L276.0,156.3 L276.6,149.9 L276.9,169.8 L277.3,156.0 L278.0,167.3 L278.4,167.1 L278.7,154.3 L279.1,148.7 L279.5,154.7 L280.0,148.4 L280.5,169.1 L281.0,166.1 L281.6,168.0 L282.0,153.7 L282.5,153.5 L283.1,189.0 L283.6,194.7 L284.1,174.9 L284.5,166.8 L285.0,152.8 L285.6,147.0 L285.9,134.8 L286.3,144.4 L286.7,143.8 L287.0,143.5 L287.4,147.7 L287.7,130.9 L288.1,153.0 L288.5,144.8 L288.8,150.1 L289.2,139.4 L289.5,148.8 L289.9,147.0 L290.3,151.3 L290.6,133.8 L291.0,150.8 L291.3,142.6 L291.7,151.6 L292.1,143.6 L292.4,152.6 L292.8,162.2 L293.1,172.3 L293.5,179.9 L293.9,171.1 L294.2,168.8 L294.6,173.0 L294.9,166.4 L295.3,173.2 L295.7,164.9 L296.0,172.9 L296.4,170.4 L296.7,169.1 L297.1,158.8 L297.5,159.2 L297.8,149.6 L298.2,164.8 L298.5,153.8 L298.9,157.6 L299.3,156.7 L299.6,163.4 L300.0,161.4 L300.3,164.3 L300.8,159.0 L301.5,197.2 L302.2,159.3 L302.9,153.1 L303.2,164.0 L303.6,152.2 L303.9,158.1 L304.3,157.6 L304.7,160.4 L305.0,165.1 L305.4,145.9 L306.0,155.5 L306.5,168.9 L307.0,171.6 L307.5,167.6 L307.9,165.0 L308.3,160.3 L308.6,164.1 L309.0,156.6 L309.7,171.2 L310.1,176.4 L310.5,180.8 L311.1,181.0 L311.5,189.5 L311.9,200.2 L312.2,191.8 L312.6,195.1 L313.0,193.5 L313.7,191.7 L314.0,173.8 L314.5,169.4 L315.1,184.6 L315.5,185.0 L316.0,195.8 L316.5,175.0 L317.0,168.0 L317.6,155.9 L318.0,165.3 L318.3,165.9 L318.7,150.7 L319.1,148.6 L319.4,157.0 L319.8,161.6 L320.1,156.1 L321.0,156.5 L321.8,137.8 L322.7,137.6 L323.5,140.2 L324.4,135.9 L325.2,134.5 L326.1,139.6 L326.9,135.3 L327.8,142.0 L328.6,137.9 L329.5,143.5 L329.8,132.5 L330.2,133.1 L330.6,131.2 L331.0,138.9 L331.5,184.9 L332.0,152.0 L332.4,146.6 L332.7,137.9 L333.1,135.7 L333.4,147.4 L333.8,143.8 L334.2,144.8 L334.5,152.4 L334.9,153.7 L335.2,161.0 L335.6,165.1 L336.0,164.7 L336.3,157.1 L336.7,151.4 L337.0,148.4 L337.4,150.0 L337.8,152.4 L338.1,142.3 L338.5,149.0 L338.8,150.2 L339.2,153.0 L339.6,144.8 L339.9,144.6 L340.3,143.5 L340.6,150.3 L341.0,138.2 L341.4,146.3 L341.7,139.7 L342.1,142.8 L342.4,148.2 L342.8,144.5 L343.2,151.0 L343.5,151.5 L343.9,158.8 L344.2,178.2 L344.6,168.8 L345.0,170.7 L345.3,171.3 L345.7,170.3 L346.0,175.2 L346.4,172.1 L346.8,163.5 L347.1,164.0 L347.5,166.3 L347.8,165.0 L348.2,166.0 L348.6,162.4 L349.0,163.5 L349.8,201.7 L350.6,161.2 L351.1,159.6 L351.4,163.4 L351.8,175.9 L352.2,161.6 L353.0,157.3 L353.9,163.2 L354.7,167.1 L355.6,160.4 L356.4,161.2 L357.3,161.2 L358.1,166.1 L358.5,148.2 L358.8,161.3 L359.2,162.6 L359.6,162.0 L359.9,163.0 L360.3,171.7 L360.6,177.2 L361.0,169.3 L361.4,170.6 L361.7,171.9 L362.1,161.1 L362.4,167.7 L362.8,166.4 L363.2,163.2 L363.5,153.9 L363.9,153.1 L364.2,156.7 L364.6,161.0 L365.0,159.2 L365.3,158.7 L365.7,163.0 L366.0,167.2 L366.4,172.0 L366.8,174.3 L367.1,170.5 L367.5,165.4 L367.8,163.6 L368.2,162.8 L368.6,164.4 L368.9,157.1 L369.3,163.3 L369.6,160.3 L370.0,155.1 L370.4,163.0 L370.7,154.4 L371.1,145.4 L371.4,162.1 L371.8,161.8 L372.2,149.9 L372.5,165.2 L373.0,166.4 L373.6,159.2 L374.0,159.5 L374.5,147.8 L375.0,161.2 L375.4,159.6 L375.8,170.1 L376.5,213.8 L377.2,168.9 L377.6,171.1 L377.9,165.1 L378.3,166.6 L378.6,159.2 L379.0,157.6 L379.4,147.8 L379.7,156.9 L380.1,146.2 L380.4,147.1 L380.8,151.5 L381.2,158.4 L381.5,156.3 L381.9,155.6 L382.2,160.0 L382.6,154.2 L383.0,162.5 L383.3,165.6 L383.7,161.7 L384.0,156.4 L384.4,168.7 L384.8,163.8 L385.1,152.8 L385.5,156.2 L385.8,178.8 L386.2,168.4 L386.6,160.7 L386.9,158.6 L387.3,161.8 L387.6,169.0 L388.0,174.0 L388.4,176.7 L388.7,175.6 L389.1,178.3 L389.4,180.7 L390.0,179.9 L390.5,185.7 L390.9,188.7 L391.2,192.7 L391.8,191.2 L392.3,181.8 L392.7,184.9 L393.0,174.2 L393.4,161.9 L394.0,159.1 L394.5,173.2 L394.8,169.2 L395.5,179.9 L395.9,175.2 L396.3,173.7 L396.6,180.8 L397.0,178.0 L397.4,185.7 L397.7,184.1 L398.1,184.1 L398.4,184.2 L398.8,188.9 L399.2,179.6 L399.5,187.1 L399.9,186.5 L400.2,184.8 L400.6,183.5 L401.0,180.0 L401.3,176.4 L401.7,172.9 L402.0,179.1 L402.4,169.5 L402.8,176.1 L403.1,172.3 L403.5,169.1 L403.8,167.3 L404.2,163.3 L404.6,174.3 L404.9,167.6 L405.3,171.9 L405.6,171.3 L406.0,170.3 L406.4,164.7 L406.7,163.5 L407.1,153.8 L407.4,157.8 L408.0,150.5 L408.5,150.3 L409.0,137.5 L409.6,155.8 L410.0,165.8 L410.7,176.0 L411.3,194.4 L411.8,179.6 L412.1,172.3 L412.5,170.2 L413.2,154.3 L413.6,148.0 L413.9,158.3 L414.3,162.3 L414.6,153.3 L415.0,153.1 L415.4,152.5 L416.2,152.6 L417.1,151.6 L417.9,156.2 L418.8,156.5 L419.6,162.2 L420.5,160.6 L421.3,162.8 L422.2,164.0 L423.0,167.4 L423.9,168.1 L424.7,170.2 L425.6,172.6 L426.4,175.4 L427.3,173.0 L428.1,176.0 L429.0,172.8 L429.8,175.0 L430.7,177.5 L431.5,170.6 L432.4,173.6 L433.2,171.7 L434.1,165.1 L434.9,163.7 L435.8,163.4 L436.6,163.7 L437.5,161.9 L438.3,161.9 L439.2,162.5 L440.0,160.3 L440.9,156.5 L441.7,156.8 L442.6,159.0 L443.4,152.8 L444.3,155.2 L444.6,156.2 L445.0,152.8 L445.3,151.4 L445.7,155.5 L446.1,153.2 L446.4,155.1 L446.8,153.8 L447.1,154.8 L447.5,154.4 L447.9,153.2 L448.2,148.3 L448.6,155.8 L448.9,156.4 L449.3,153.6 L449.7,158.6 L450.0,150.6 L450.4,153.5 L450.7,148.9 L451.1,147.6 L451.5,156.8 L451.8,156.9 L452.2,158.6 L452.5,162.7 L452.9,164.6 L453.3,164.2 L453.6,163.9 L454.0,168.2 L454.3,167.9 L454.7,163.3 L455.1,169.4 L455.4,170.3 L455.8,176.9 L456.1,171.8 L456.5,176.5 L456.9,177.4 L457.2,174.8 L457.6,183.1 L457.9,183.1 L458.3,182.9 L458.7,178.4 L459.0,172.4 L459.4,164.5 L459.7,168.8 L460.1,163.0 L460.5,153.6 L460.8,148.9 L461.2,148.8 L461.5,150.0 L461.9,150.2 L462.3,149.8 L463.1,149.0 L464.0,151.3 L464.8,150.0 L465.7,145.9 L466.5,147.6 L467.4,142.5 L468.2,140.7 L469.1,145.1 L469.9,143.2 L470.8,143.3 L471.6,143.9 L472.5,147.1 L473.3,147.7 L474.2,145.8 L475.0,145.9 L475.9,148.2 L476.7,147.8 L477.6,145.0 L478.4,143.6 L479.3,144.2 L480.1,144.6 L481.0,143.9 L481.8,143.9 L482.7,148.5 L483.5,150.9 L484.4,146.2 L485.2,144.4 L486.1,147.8 L486.9,142.1 L487.8,144.1 L488.6,146.2 L489.5,149.3 L490.3,149.8 L491.2,148.5 L492.0,149.4 L492.9,146.7 L493.7,146.1 L494.6,147.2 L495.4,148.2 L496.3,147.2 L497.1,150.2 L498.0,146.2 L498.8,147.2 L499.7,149.6 L500.5,145.9 L501.4,147.3 L502.2,147.2 L503.1,145.5 L503.9,148.5 L504.8,146.6 L505.6,150.2 L506.5,145.8 L507.3,147.1 L508.2,148.9 L509.0,142.9 L509.9,149.3 L510.7,145.2 L511.6,148.4 L512.4,144.1 L513.3,147.3 L514.1,147.8 L515.0,147.7 L515.8,145.2 L516.7,148.3 L517.5,142.7 L518.4,146.2 L519.2,143.7 L520.1,143.1 L520.9,142.8 L521.8,140.7 L522.6,144.2 L523.5,141.4 L524.3,144.9 L525.2,145.5 L526.0,143.3 L526.9,144.8 L527.7,140.8 L528.6,141.9 L529.4,145.3 L530.3,143.3 L531.1,147.8 L532.0,143.5 L532.8,147.2 L533.7,145.2 L534.5,143.6 L535.4,146.3 L536.2,142.7 L537.1,142.7 L537.9,144.5 L538.8,142.2 L539.6,140.4 L540.5,145.0 L541.3,141.1 L542.2,142.2 L543.0,140.9 L543.9,144.8 L544.7,141.0 L545.6,143.6 L546.4,145.1 L547.3,145.5 L548.1,145.2 L549.0,143.3 L549.8,143.4 L550.7,140.3 L551.5,141.7 L552.4,144.2 L553.2,143.1 L554.1,146.3 L554.9,146.4 L555.8,145.1 L556.6,145.3 L557.5,144.9 L558.3,145.0 L559.2,145.2 L560.0,151.1 L560.9,144.6 L561.7,145.0 L562.6,147.4 L563.4,145.2 L564.3,145.5 L565.1,148.6 L566.0,147.6 L566.8,147.8 L567.7,146.1 L568.5,146.4 L569.4,144.9 L570.2,145.0 L571.1,150.0 L571.9,149.4 L572.8,148.1 L573.6,147.2 L574.5,148.2 L575.3,150.2 L576.2,145.5 L577.0,152.7 L577.9,150.8 L578.7,149.0 L579.6,148.3 L580.4,148.5 L581.3,149.3 L582.1,148.3 L583.0,150.1 L583.8,146.3 L584.7,149.6 L585.5,147.3 L586.4,146.8 L587.2,148.6 L588.1,148.1 L588.9,146.5 L589.8,147.3 L590.6,146.6 L591.5,144.8 L592.3,146.1 L593.2,144.9 L594.0,141.9 L594.9,146.2 L595.7,145.4 L596.6,144.9 L597.4,142.5 L598.3,145.3 L599.1,145.2 L600.0,140.5 L600.8,147.0 L601.7,144.4 L602.5,145.0 L603.4,148.6 L604.2,146.7 L605.1,146.2 L605.9,144.8 L606.8,148.7 L607.6,149.5 L608.5,150.3 L609.3,145.5 L610.2,145.1 L611.0,149.4 L611.9,152.3 L612.7,149.9 L613.6,149.7 L614.4,151.5 L615.3,149.1 L616.1,153.3 L617.0,151.6 L617.8,151.0 L618.7,151.1 L619.5,149.8 L620.4,147.4 L621.2,147.8 L622.1,149.2 L622.9,148.0 L623.8,148.8 L624.6,151.0 L625.5,150.8 L626.3,147.5 L627.2,149.5 L628.0,153.6 L628.9,143.4 L629.7,154.4 L630.6,150.0 L631.4,146.9 L632.3,148.0 L633.1,146.2 L634.0,147.3 L634.8,148.6 L635.7,153.2 L636.5,153.6 L637.4,152.0 L638.2,155.1 L639.1,153.0 L639.9,156.8 L640.8,156.4 L641.6,159.5 L642.5,156.3 L643.3,157.9 L644.2,162.0 L645.0,160.4 L645.9,162.3 L646.7,162.1 L647.6,163.4 L648.4,160.1 L649.3,160.3 L650.1,158.4 L651.0,161.5 L651.8,156.2 L652.7,160.1 L653.5,153.5 L654.4,153.2 L655.2,157.3 L656.1,160.8 L656.9,159.0 L657.8,156.5 L658.6,157.4 L659.5,152.4 L660.3,152.4 L661.2,152.8 L662.0,151.1 L662.9,148.6 L663.7,143.5 L664.6,148.8 L665.4,149.7 L666.2,157.9 L666.6,142.4 L667.0,145.8 L667.3,145.6 L667.7,132.6 L668.2,135.3 L668.8,146.5 L669.1,158.7 L669.6,172.6 L670.4,201.8 L670.9,181.3 L671.4,173.5 L672.0,163.0 L672.4,156.9 L672.7,155.2 L673.1,155.5 L673.5,140.9 L673.8,137.5 L674.2,130.8 L674.5,130.3 L674.9,120.3 L675.3,117.5 L675.6,108.5 L676.0,117.8 L676.3,115.7 L676.7,123.4 L677.1,112.4 L677.4,124.7 L677.8,109.7 L678.1,116.4 L678.5,123.5 L678.9,120.4 L679.2,128.5 L679.6,129.9 L679.9,115.3 L680.3,118.9 L680.7,129.9 L681.0,134.1 L681.4,136.3 L681.7,137.1 L682.1,130.1 L682.5,143.2 L682.8,143.8 L683.2,139.8 L683.5,145.4 L683.9,149.9 L684.3,146.3 L685.1,147.1 L686.0,150.1 L686.8,151.0 L687.7,158.5 L688.5,156.9 L689.4,159.8 L690.2,150.7 L691.1,147.5 L691.9,146.5 L692.8,150.5 L693.6,145.7 L694.5,148.6 L695.3,147.3 L696.2,148.1 L697.0,142.1 L697.9,140.5 L698.7,134.4 L699.6,130.1 L700.4,126.2 L701.3,137.1 L702.1,151.3 L703.0,159.9 L703.8,160.6 L704.7,156.2 L705.5,152.4 L706.4,143.7 L707.2,149.9 L708.1,145.5 L708.9,146.3 L709.4,152.2 L709.8,156.8 L710.6,165.0 L711.5,154.4 L712.6,140.7 L713.2,132.4 L714.0,132.7 L714.9,131.7 L715.7,129.8 L716.6,137.7 L717.4,139.5 L718.3,139.8 L719.1,145.9 L720.0,145.8 L720.8,147.7 L721.7,149.8 L722.5,147.8 L723.4,149.5 L724.2,150.1 L725.1,145.9 L725.9,149.9 L726.8,148.2 L727.6,147.0 L728.5,146.8 L729.3,146.5 L730.2,149.2 L731.0,144.7 L731.9,142.0 L732.7,147.2 L733.6,147.1 L734.4,147.9 L735.3,146.8 L736.1,145.4 L737.0,146.9 L737.8,147.6 L738.7,146.9 L739.5,148.2 L740.4,148.3 L741.2,150.5 L742.1,146.5 L742.9,146.8 L743.8,143.7 L744.6,145.6 L745.5,145.8 L746.3,145.0 L747.2,145.2 L748.0,152.1 L748.9,154.0 L749.7,152.7 L750.6,151.7 L751.4,152.1 L752.3,154.2 L753.1,153.2 L754.0,151.5 L754.8,153.7 L755.7,153.8 L756.5,156.4 L757.4,156.2 L758.2,159.5 L759.1,159.3 L759.9,155.9 L760.8,157.5 L761.6,157.2 L762.5,160.7 L763.3,160.2 L764.2,158.9 L765.0,158.9 L765.9,157.5 L766.7,158.9 L767.6,156.7 L768.4,160.1 L769.3,159.2 L770.1,157.9 L771.0,153.7 L771.8,149.5 L772.7,153.8 L773.5,152.5 L774.4,149.2 L775.2,150.1 L776.1,151.0 L776.9,148.7 L777.8,148.5 L778.6,142.6 L779.5,146.3 L780.3,143.2 L781.2,143.4 L782.0,143.5 L782.9,143.1 L783.7,140.7 L784.6,140.6 L785.4,143.7 L786.3,140.4 L787.1,140.3 L788.0,140.5 L788.8,140.1 L789.7,143.6 L790.5,139.6 L791.4,139.2 L792.2,141.6 L793.1,139.2 L793.9,137.7 L794.8,145.7 L795.6,144.6 L796.5,140.7 L797.3,142.1 L798.2,137.4 L799.0,139.0 L799.9,143.1 L800.7,142.9 L801.6,142.7 L802.4,142.8 L803.3,144.3 L804.1,142.2 L805.0,144.5 L805.8,145.5 L806.7,143.2 L807.5,147.1 L808.4,145.6 L809.2,143.6 L810.1,142.7 L810.9,143.1 L811.8,142.3 L812.6,142.4 L813.5,141.3 L814.3,138.6 L815.2,137.3 L816.0,142.4 L816.9,139.5 L817.7,141.1 L818.6,138.6 L819.4,137.0 L820.3,135.5 L821.1,137.1 L822.0,137.3 L822.8,135.2 L823.7,136.8 L824.5,138.8 L825.4,132.1 L826.2,135.6 L827.1,131.4 L827.9,132.0 L828.8,131.1 L829.6,132.4 L830.5,135.0 L831.3,132.5 L832.2,134.0 L833.0,131.4 L833.9,133.5 L834.7,131.2 L835.6,132.9 L836.4,132.2 L837.3,128.8 L838.1,134.7 L839.0,136.5 L839.8,129.4 L840.7,133.4 L841.5,134.9 L842.4,136.3 L843.2,133.1 L844.1,138.1 L844.9,137.0 L845.8,139.6 L846.6,136.6 L847.5,135.1 L848.3,137.2 L849.2,137.3 L850.0,133.6 L850.9,133.2 L851.7,136.0 L852.6,134.3 L853.4,135.3 L854.3,136.0 L855.1,133.8 L856.0,132.6 L856.8,132.9 L857.7,134.7 L858.5,133.9 L859.4,133.4 L860.2,135.0 L861.1,131.9 L861.9,127.9 L862.8,128.9 L863.6,133.9 L864.5,132.9" stroke="#2ca02c"/>
<path d="M160.2,92.1 L161.0,90.5 L161.9,92.1 L162.7,89.2 L163.6,92.1 L164.4,87.7 L165.3,88.8 L166.1,88.4 L167.0,87.1 L167.8,91.1 L168.7,86.1 L169.5,87.5 L170.4,88.0 L171.2,90.5 L172.1,87.5 L172.9,89.2 L173.8,89.9 L174.6,90.5 L175.5,91.6 L176.3,93.7 L177.2,92.9 L178.0,91.2 L178.9,90.8 L179.7,93.4 L180.6,92.7 L181.4,91.7 L182.3,89.3 L183.1,93.3 L184.0,91.3 L184.8,90.9 L185.7,95.3 L186.5,91.3 L187.4,92.2 L188.2,92.7 L189.1,91.3 L189.9,90.9 L190.8,90.1 L191.6,90.3 L192.5,90.1 L193.3,92.3 L194.2,94.6 L195.0,89.9 L195.9,92.5 L196.7,93.1 L197.6,88.1 L198.4,92.9 L199.3,93.5 L200.1,93.3 L201.0,91.7 L201.8,94.2 L202.7,94.0 L203.5,90.3 L204.4,87.6 L205.2,92.9 L206.1,86.6 L206.9,92.0 L207.8,87.8 L208.6,89.6 L209.5,91.1 L210.3,92.3 L211.2,93.7 L212.0,93.2 L212.9,90.0 L213.7,95.1 L214.6,94.1 L215.4,90.8 L216.3,92.7 L217.1,91.5 L218.0,91.6 L218.8,89.2 L219.7,91.3 L220.5,95.7 L221.4,93.1 L222.2,94.0 L223.1,96.7 L223.9,97.6 L224.8,90.4 L225.6,91.5 L226.5,89.8 L227.3,90.4 L228.2,95.9 L229.0,92.3 L229.9,93.3 L230.7,93.3 L231.6,94.7 L232.4,90.4 L233.3,91.3 L234.1,91.1 L235.0,90.1 L235.8,92.6 L236.7,94.8 L237.5,92.9 L238.4,94.3 L239.2,96.1 L240.1,93.6 L240.9,90.9 L241.8,93.7 L242.6,95.4 L243.5,97.5 L244.3,93.5 L245.2,95.6 L246.0,97.7 L246.9,91.5 L247.7,95.3 L248.6,100.5 L249.4,95.6 L250.3,99.7 L251.1,97.1 L252.0,96.4 L252.8,94.2 L253.7,96.8 L254.5,96.5 L255.4,103.8 L256.2,95.9 L257.1,102.3 L257.9,99.9 L258.8,100.0 L259.6,94.8 L260.5,97.1 L261.3,94.4 L262.2,97.9 L263.0,99.7 L263.9,97.6 L264.7,96.7 L265.6,98.4 L266.4,101.7 L266.8,97.5 L267.2,94.2 L267.5,98.1 L267.9,96.4 L268.2,99.3 L268.6,108.4 L269.0,103.8 L269.3,98.6 L269.7,101.6 L270.0,104.3 L270.4,99.7 L270.8,94.7 L271.1,94.3 L271.5,101.2 L271.8,100.0 L272.2,101.4 L272.6,100.2 L272.9,100.3 L273.3,101.4 L273.6,98.8 L274.0,99.9 L274.4,100.2 L274.7,100.1 L275.1,108.4 L275.4,106.5 L275.8,105.8 L276.2,101.5 L276.5,102.8 L276.9,100.3 L277.3,98.9 L277.6,98.5 L278.0,104.7 L278.3,100.0 L278.7,101.3 L279.1,98.4 L279.4,95.9 L279.8,94.5 L280.1,101.1 L280.5,98.2 L280.9,102.4 L281.2,99.3 L281.6,104.8 L281.9,108.6 L282.3,108.8 L282.7,102.5 L283.0,104.6 L283.4,103.3 L283.7,101.8 L284.1,98.3 L284.5,97.3 L284.8,94.9 L285.2,91.7 L285.5,95.9 L285.9,92.9 L286.3,95.6 L286.6,99.9 L287.0,95.4 L287.3,95.1 L287.7,93.5 L288.1,91.8 L288.4,91.5 L288.8,95.4 L289.1,99.6 L289.5,96.4 L289.9,95.6 L290.2,100.7 L290.6,94.8 L290.9,97.3 L291.3,100.4 L291.7,101.3 L292.0,103.0 L292.4,95.2 L292.7,98.2 L293.1,97.5 L293.5,97.3 L293.8,100.0 L294.2,96.9 L294.5,101.2 L294.9,101.1 L295.3,103.9 L295.6,103.9 L296.0,109.5 L296.3,108.3 L296.7,108.8 L297.1,106.4 L297.4,107.6 L297.8,115.2 L298.1,113.3 L298.5,111.4 L298.9,108.9 L299.2,109.4 L299.6,108.7 L299.9,106.2 L300.3,103.4 L301.1,103.0 L302.0,103.8 L302.8,105.3 L303.7,100.5 L304.1,102.0 L304.4,105.3 L304.8,100.7 L305.1,98.8 L305.5,98.0 L305.9,98.2 L306.2,90.4 L306.6,91.6 L306.9,92.1 L307.3,92.2 L307.7,94.6 L308.0,93.4 L308.4,92.6 L308.7,94.7 L309.1,102.0 L309.5,102.2 L309.8,98.0 L310.2,102.9 L310.5,107.1 L310.9,105.9 L311.3,108.1 L311.6,104.7 L312.0,103.1 L312.3,105.2 L312.7,107.3 L313.1,103.2 L313.4,109.0 L313.8,101.4 L314.1,101.2 L314.5,105.7 L314.9,98.1 L315.2,106.0 L315.6,104.7 L315.9,105.3 L316.3,104.4 L316.7,103.9 L317.0,103.0 L317.4,107.0 L317.7,107.4 L318.1,107.1 L318.5,105.2 L318.8,109.4 L319.2,105.0 L319.5,103.0 L319.9,101.7 L320.3,95.1 L320.6,101.5 L321.0,99.8 L321.3,104.6 L321.7,101.3 L322.1,102.4 L322.9,100.7 L323.8,101.2 L324.6,103.4 L325.5,106.1 L326.3,104.0 L327.2,104.3 L328.0,102.2 L328.9,99.4 L329.7,101.4 L330.6,97.5 L331.4,98.9 L332.3,105.3 L333.1,103.6 L334.0,101.8 L334.8,98.9 L335.7,97.0 L336.5,97.3 L337.4,94.3 L338.2,95.5 L339.1,97.1 L339.9,95.2 L340.8,96.5 L341.6,89.8 L342.5,96.8 L343.3,96.2 L343.7,91.5 L344.0,96.1 L344.4,97.4 L344.7,96.5 L345.1,99.3 L345.5,99.3 L345.8,99.6 L346.2,99.8 L346.5,102.2 L346.9,99.1 L347.3,96.2 L347.6,96.6 L348.0,90.7 L348.3,94.1 L348.7,96.5 L349.1,93.0 L349.4,86.8 L349.8,89.2 L350.1,86.5 L350.5,93.8 L350.9,88.4 L351.2,99.4 L351.6,93.7 L351.9,102.8 L352.3,103.9 L352.7,101.6 L353.0,104.2 L353.9,102.5 L354.7,104.7 L355.6,101.8 L356.4,102.0 L357.3,101.5 L358.1,106.3 L359.0,101.2 L359.8,101.9 L360.7,104.4 L361.5,102.5 L362.4,101.5 L363.2,101.6 L364.1,105.1 L364.9,100.6 L365.8,101.0 L366.6,102.5 L367.5,102.4 L368.3,100.5 L369.2,101.8 L370.0,105.1 L370.9,99.6 L371.7,96.6 L372.6,100.8 L373.4,97.9 L374.3,100.0 L375.1,103.8 L376.0,101.6 L376.8,99.9 L377.7,90.1 L378.5,90.1 L379.4,94.6 L380.2,97.3 L381.1,98.0 L381.9,97.3 L382.8,98.0 L383.6,94.0 L384.5,100.6 L385.3,102.3 L386.2,97.3 L387.0,99.5 L387.9,100.4 L388.7,100.2 L389.6,94.8 L390.4,96.3 L391.3,108.4 L392.1,103.0 L393.0,103.5 L393.8,107.2 L394.7,98.9 L395.5,105.8 L396.4,105.9 L397.2,106.9 L398.1,107.4 L398.9,102.3 L399.8,106.7 L400.6,105.7 L401.5,97.1 L402.3,103.9 L403.2,100.5 L404.0,100.2 L404.9,102.9 L405.7,105.4 L406.6,107.4 L407.4,104.9 L408.3,105.0 L409.1,99.8 L410.0,99.9 L410.8,108.5 L411.7,100.1 L412.5,92.3 L413.4,96.0 L414.2,94.9 L415.1,95.0 L415.9,98.5 L416.8,95.0 L417.6,94.6 L418.5,97.9 L419.3,95.3 L420.2,95.1 L421.0,95.6 L421.9,95.2 L422.7,96.6 L423.6,98.9 L424.4,97.4 L425.3,97.6 L426.1,96.5 L427.0,96.2 L427.8,94.4 L428.7,94.3 L429.5,92.6 L430.4,93.3 L431.2,93.2 L432.1,98.6 L432.9,95.4 L433.8,92.7 L434.6,92.8 L435.5,98.1 L436.3,97.4 L437.2,95.9 L438.0,98.3 L438.9,94.5 L439.7,100.1 L440.6,96.3 L441.4,92.8 L442.3,90.5 L443.1,95.3 L444.0,90.8 L444.8,92.1 L445.7,92.6 L446.5,91.5 L447.4,90.7 L448.2,90.2 L449.1,91.3 L449.9,90.5 L450.8,89.1 L451.6,92.0 L452.5,97.3 L453.3,96.0 L454.2,93.1 L455.0,93.1 L455.9,93.2 L456.7,93.1 L457.6,95.6 L458.4,90.9 L459.3,93.5 L460.1,92.8 L461.0,90.9 L461.8,91.0 L462.7,89.3 L463.5,90.2 L464.4,88.8 L465.2,88.8 L466.1,90.5 L466.9,93.4 L467.8,92.0 L468.6,91.8 L469.5,91.1 L470.3,90.1 L471.2,88.3 L472.0,91.8 L472.9,93.2 L473.7,91.0 L474.6,88.7 L475.4,88.2 L476.3,93.4 L477.1,91.7 L478.0,91.0 L478.8,93.5 L479.7,91.5 L480.5,88.3 L481.4,90.9 L482.2,91.9 L483.1,92.8 L483.9,88.5 L484.8,91.6 L485.6,90.2 L486.5,90.5 L487.3,91.3 L488.2,91.7 L489.0,91.8 L489.9,92.4 L490.7,93.0 L491.6,91.2 L492.4,89.1 L493.3,90.1 L494.1,91.0 L495.0,92.5 L495.8,92.2 L496.7,89.4 L497.5,92.9 L498.4,95.2 L499.2,92.8 L500.1,89.9 L500.9,88.1 L501.8,91.9 L502.6,90.2 L503.5,90.0 L504.3,87.6 L505.2,88.6 L506.0,92.2 L506.9,89.9 L507.7,93.5 L508.6,88.8 L509.4,89.3 L510.3,93.1 L511.1,91.2 L512.0,90.1 L512.8,93.7 L513.7,91.6 L514.5,93.1 L515.4,89.4 L516.2,91.9 L517.1,93.2 L517.9,93.8 L518.8,94.2 L519.6,92.9 L520.5,93.5 L521.3,94.4 L522.2,95.2 L523.0,95.0 L523.9,89.9 L524.7,89.9 L525.6,92.4 L526.4,91.4 L527.3,92.2 L528.1,93.5 L529.0,93.4 L529.8,95.5 L530.7,98.1 L531.5,91.5 L532.4,94.8 L533.2,93.1 L534.1,94.3 L534.9,92.6 L535.8,94.7 L536.6,91.9 L537.5,95.9 L538.3,95.5 L539.2,90.5 L540.0,93.9 L540.9,91.9 L541.7,92.1 L542.6,95.0 L543.4,97.8 L544.3,91.3 L545.1,91.8 L546.0,91.2 L546.8,94.7 L547.7,92.6 L548.5,94.1 L549.4,87.8 L550.2,90.6 L551.1,95.2 L551.9,95.9 L552.8,93.0 L553.6,92.6 L554.5,93.1 L555.3,92.4 L556.2,94.0 L557.0,92.6 L557.9,97.9 L558.7,94.4 L559.6,90.6 L560.4,92.0 L561.3,94.2 L562.1,94.2 L563.0,98.0 L563.8,97.8 L564.7,95.4 L565.5,92.7 L566.4,95.4 L567.2,95.1 L568.1,92.8 L568.9,91.2 L569.8,94.8 L570.6,97.8 L571.5,95.6 L572.3,94.2 L573.2,94.6 L574.0,100.3 L574.9,95.1 L575.7,93.1 L576.6,91.8 L577.4,95.4 L578.3,93.2 L579.1,97.3 L580.0,92.6 L580.8,94.9 L581.7,90.8 L582.5,94.1 L583.4,90.6 L584.2,91.6 L585.1,96.3 L585.9,97.8 L586.8,96.5 L587.6,100.0 L588.5,98.4 L589.3,92.6 L590.2,95.8 L591.0,98.0 L591.9,96.6 L592.7,94.0 L593.6,96.5 L594.4,94.5 L595.3,97.5 L596.1,99.1 L597.0,99.3 L597.8,99.5 L598.7,102.4 L599.5,98.4 L600.4,99.7 L601.2,95.0 L602.1,95.5 L602.9,97.3 L603.8,100.1 L604.6,100.9 L605.5,100.9 L606.3,100.1 L607.2,99.6 L608.0,98.0 L608.9,97.1 L609.7,94.8 L610.6,97.4 L611.4,103.4 L612.3,100.1 L613.1,98.8 L614.0,98.5 L614.8,100.7 L615.7,100.5 L616.5,103.3 L617.4,102.1 L618.2,97.6 L619.1,98.8 L619.9,99.6 L620.8,99.6 L621.6,98.6 L622.5,99.2 L623.3,99.1 L624.2,97.5 L625.0,98.7 L625.9,98.7 L626.7,99.1 L627.6,99.7 L628.4,104.5 L629.3,100.2 L630.1,101.1 L631.0,100.9 L631.8,99.6 L632.7,100.6 L633.5,101.2 L634.4,103.3 L635.2,102.1 L636.1,101.6 L636.9,105.0 L637.8,102.5 L638.6,102.3 L639.5,102.9 L640.3,102.6 L641.2,104.0 L642.0,100.5 L642.9,101.1 L643.7,103.8 L644.6,101.1 L645.4,100.1 L646.3,102.9 L647.1,107.7 L648.0,104.1 L648.8,104.2 L649.7,101.6 L650.5,102.4 L651.4,106.4 L652.2,103.2 L653.1,103.3 L653.9,100.6 L654.8,104.9 L655.6,104.4 L656.5,102.8 L657.3,102.6 L658.2,100.1 L659.0,97.2 L659.9,97.7 L660.7,99.5 L661.6,100.5 L662.4,99.6 L663.3,96.9 L664.1,102.8 L665.0,101.5 L665.8,97.8 L666.7,103.0 L667.5,98.4 L668.4,99.8 L669.2,102.6 L670.1,109.3 L670.9,107.5 L671.8,105.5 L672.6,107.2 L673.5,109.9 L674.3,106.8 L675.2,108.4 L676.0,106.8 L676.9,107.5 L677.7,106.8 L678.6,105.1 L679.4,106.6 L680.3,105.5 L681.1,104.4 L682.0,105.6 L682.8,106.2 L683.7,109.1 L684.5,102.0 L685.4,106.3 L686.2,103.2 L687.1,106.0 L687.9,105.8 L688.8,103.3 L689.6,104.0 L690.5,102.6 L691.3,103.9 L692.2,105.3 L693.0,106.1 L693.9,104.4 L694.7,103.4 L695.6,102.9 L696.4,103.6 L697.3,104.5 L698.1,107.2 L699.0,103.2 L699.8,104.4 L700.7,102.6 L701.5,99.9 L702.4,101.9 L703.2,100.5 L704.1,99.0 L704.9,100.5 L705.8,102.7 L706.6,102.3 L707.5,103.6 L708.3,103.3 L709.2,101.9 L710.0,101.6 L710.9,101.5 L711.7,96.8 L712.6,101.1 L713.4,96.5 L714.3,102.9 L715.1,99.0 L716.0,98.7 L716.8,97.3 L717.7,100.8 L718.5,99.5 L719.4,101.7 L720.2,100.7 L721.1,103.4 L721.9,100.9 L722.8,103.5 L723.6,103.1 L724.5,102.0 L725.3,102.5 L726.2,100.9 L727.0,100.4 L727.9,101.5 L728.7,96.4 L729.6,99.9 L730.4,101.1 L731.3,99.4 L732.1,101.3 L733.0,103.5 L733.8,99.1 L734.7,104.8 L735.5,100.2 L736.4,102.5 L737.2,101.0 L738.1,102.7 L738.9,98.5 L739.8,100.6 L740.6,101.4 L741.5,102.0 L742.3,98.3 L743.2,99.4 L744.0,95.2 L744.9,96.8 L745.7,98.5 L746.6,98.6 L747.4,97.7 L748.3,100.5 L749.1,97.7 L750.0,99.4 L750.8,99.7 L751.7,98.1 L752.5,94.2 L753.4,96.3 L754.2,96.4 L755.1,99.1 L755.9,98.9 L756.8,100.4 L757.6,99.4 L758.5,99.6 L759.3,102.0 L760.2,104.0 L761.0,99.3 L761.9,100.4 L762.7,99.5 L763.6,99.5 L764.4,100.9 L765.3,99.0 L766.1,98.7 L767.0,99.6 L767.8,101.9 L768.7,97.3 L769.5,101.1 L770.4,100.8 L771.2,97.0 L772.1,101.5 L772.9,103.4 L773.8,99.6 L774.6,99.2 L775.5,97.7 L776.3,98.8 L777.2,100.9 L778.0,104.0 L778.9,102.5 L779.7,101.5 L780.6,101.7 L781.4,104.5 L782.3,102.1 L783.1,100.9 L784.0,101.7 L784.8,101.8 L785.7,99.8 L786.5,100.2 L787.4,104.5 L788.2,96.8 L789.1,101.2 L789.9,98.7 L790.8,102.4 L791.6,98.4 L792.5,98.4 L793.3,100.0 L794.2,96.5 L795.0,97.3 L795.9,97.9 L796.7,98.4 L797.6,99.3 L798.4,97.1 L799.3,97.6 L800.1,99.7 L801.0,99.6 L801.8,99.0 L802.7,98.5 L803.5,99.8 L804.6,100.0 L805.2,111.2 L805.6,118.4 L806.1,107.9 L806.6,99.7 L807.8,97.5 L808.6,97.0 L809.5,97.9 L810.3,96.2 L811.2,97.6 L812.0,98.6 L812.9,98.6 L813.7,97.5 L814.6,94.9 L815.4,101.9 L816.3,100.5 L817.1,101.0 L818.0,99.1 L818.8,100.3 L819.7,97.9 L820.5,95.0 L821.4,100.0 L822.2,98.4 L823.1,100.5 L823.9,99.2 L824.8,100.3 L825.6,95.2 L826.5,102.5 L827.3,97.8 L828.2,100.7 L829.0,97.0 L829.9,95.8 L830.7,101.1 L831.6,96.0 L832.4,101.8 L833.3,101.2 L834.1,102.0 L835.0,100.0 L835.8,103.9 L836.7,102.5 L837.5,103.1 L838.4,104.0 L839.2,107.1 L840.1,105.4 L840.9,105.5 L841.8,106.5 L842.6,108.7 L843.5,106.0 L844.3,110.4 L845.2,107.2 L846.0,106.4 L846.9,102.2 L847.7,104.5 L848.6,104.7 L849.4,106.1 L850.3,103.2 L851.1,103.0 L852.0,102.5 L852.8,98.9 L853.7,99.0 L854.5,100.9 L855.4,98.5 L856.2,98.9 L857.1,98.2 L857.9,99.1 L858.8,94.5 L859.6,95.8 L860.5,93.7 L861.3,97.0 L862.2,98.5 L863.0,101.8 L863.9,99.7 L864.7,98.5" stroke="#d62728"/>
<path d="M160.2,95.2 L161.0,95.8 L161.9,95.5 L162.7,92.9 L163.6,95.0 L164.4,96.1 L165.3,96.9 L166.1,99.7 L167.0,92.0 L167.8,96.5 L168.7,96.1 L169.5,96.3 L170.4,96.3 L171.2,96.8 L172.1,98.0 L172.9,96.5 L173.8,95.8 L174.6,99.4 L175.5,99.7 L176.3,96.2 L177.2,100.3 L178.0,98.3 L178.9,98.1 L179.7,97.6 L180.6,96.9 L181.4,98.7 L182.3,95.1 L183.1,102.1 L184.0,95.8 L184.8,97.0 L185.7,100.2 L186.5,97.8 L187.4,99.0 L188.2,100.5 L189.1,99.0 L189.9,96.6 L190.8,95.5 L191.6,98.3 L192.5,94.5 L193.3,97.4 L194.2,91.5 L195.0,95.0 L195.9,95.9 L196.7,95.0 L197.6,96.8 L198.4,96.9 L199.3,92.1 L200.1,97.9 L201.0,94.0 L201.8,98.0 L202.7,99.5 L203.5,98.4 L204.4,98.7 L205.2,97.5 L206.1,95.1 L206.9,97.3 L207.8,98.3 L208.6,96.0 L209.5,96.3 L210.3,97.7 L211.2,97.3 L212.0,97.6 L212.9,94.7 L213.7,98.3 L214.6,97.1 L215.4,98.6 L216.3,100.7 L217.1,98.7 L218.0,96.5 L218.8,100.1 L219.7,98.7 L220.5,97.4 L221.4,99.2 L222.2,100.7 L223.1,98.6 L223.9,99.2 L224.8,96.8 L225.6,98.7 L226.5,100.6 L227.3,101.3 L228.2,102.5 L229.0,100.3 L229.9,94.3 L230.7,99.9 L231.6,98.7 L232.4,99.6 L233.3,99.1 L234.1,99.3 L235.0,96.6 L235.8,94.8 L236.7,94.8 L237.5,93.1 L238.4,90.7 L239.2,93.3 L240.1,95.4 L240.9,92.3 L241.8,93.7 L242.6,93.9 L243.5,91.0 L244.3,90.3 L245.2,90.9 L246.0,89.5 L246.9,93.8 L247.7,94.4 L248.6,95.0 L249.4,93.2 L250.3,91.5 L251.1,95.2 L252.0,89.2 L252.8,93.9 L253.7,93.8 L254.5,91.6 L255.4,94.8 L256.2,94.4 L257.1,91.1 L257.9,90.7 L258.8,92.9 L259.6,93.6 L260.5,96.7 L261.3,92.1 L262.2,93.4 L263.0,95.8 L263.9,94.9 L264.7,96.9 L265.6,97.7 L266.4,98.5 L266.8,103.8 L267.2,98.2 L267.5,103.3 L267.9,100.3 L268.2,101.0 L268.6,106.9 L269.0,108.1 L269.3,110.4 L269.7,108.0 L270.0,105.6 L270.4,104.6 L270.8,108.1 L271.1,106.0 L271.5,110.0 L271.8,115.0 L272.2,106.2 L272.6,106.9 L272.9,109.7 L273.3,111.1 L273.6,108.5 L274.0,108.3 L274.4,105.5 L274.7,104.5 L275.1,106.5 L275.4,110.0 L275.8,104.8 L276.2,104.1 L276.5,109.4 L276.9,109.5 L277.3,112.6 L277.6,110.3 L278.0,112.4 L278.3,112.0 L278.7,120.7 L279.1,113.4 L279.4,109.5 L279.8,104.4 L280.1,109.6 L280.5,109.5 L280.9,104.3 L281.2,102.6 L281.6,103.3 L281.9,102.2 L282.3,98.8 L282.7,99.4 L283.0,99.4 L283.4,98.7 L283.7,103.1 L284.1,97.0 L284.9,97.4 L285.8,94.9 L286.6,95.0 L287.5,95.5 L288.3,98.0 L289.2,94.0 L290.0,95.0 L290.9,96.4 L291.7,96.1 L292.6,99.3 L293.4,98.4 L294.3,105.3 L295.1,106.0 L296.0,103.6 L296.8,102.9 L297.7,98.6 L298.5,100.7 L299.4,102.1 L300.2,101.5 L301.1,102.7 L301.9,102.0 L302.8,105.4 L303.6,103.1 L304.0,105.9 L304.4,107.8 L304.7,107.3 L305.1,109.2 L305.4,106.6 L305.8,107.2 L306.2,108.7 L306.5,108.0 L306.9,106.6 L307.2,107.5 L307.6,111.3 L308.0,99.6 L308.3,114.0 L308.7,112.5 L309.0,111.3 L309.4,112.9 L309.8,111.0 L310.1,106.0 L310.5,108.6 L310.8,103.3 L311.2,109.3 L311.6,108.3 L311.9,98.0 L312.3,103.4 L312.6,108.1 L313.0,106.8 L313.4,105.5 L313.7,105.3 L314.1,103.8 L314.4,107.5 L314.8,110.3 L315.2,107.6 L315.5,106.8 L315.9,102.4 L316.2,108.0 L316.6,104.6 L317.0,97.1 L317.3,102.1 L317.7,99.3 L318.0,104.8 L318.9,102.9 L319.7,102.9 L320.6,96.8 L321.4,101.4 L322.3,97.8 L323.1,100.9 L324.0,98.2 L324.8,99.1 L325.7,95.7 L326.5,99.8 L327.4,98.5 L328.2,96.0 L329.1,94.7 L329.9,93.6 L330.8,94.4 L331.6,93.8 L332.5,94.8 L333.3,97.6 L334.2,102.0 L335.0,101.5 L335.9,101.9 L336.7,103.9 L337.6,104.0 L338.4,103.7 L339.3,103.9 L340.1,103.2 L341.0,101.6 L341.8,104.1 L342.7,106.0 L343.5,104.6 L343.9,105.0 L344.3,107.1 L344.6,103.0 L345.0,102.0 L345.3,104.2 L345.7,99.9 L346.1,98.6 L346.4,98.5 L346.8,96.8 L347.1,100.6 L347.5,100.0 L347.9,96.5 L348.2,96.8 L348.6,98.4 L348.9,99.8 L349.3,99.5 L349.7,98.7 L350.0,103.8 L350.4,105.4 L350.7,111.0 L351.1,109.1 L351.5,110.6 L351.8,106.3 L352.2,110.9 L353.0,111.0 L353.9,109.5 L354.7,108.2 L355.6,112.2 L356.4,109.1 L357.3,109.7 L358.1,107.1 L359.0,109.8 L359.8,108.8 L360.7,113.3 L361.5,108.5 L362.4,109.4 L363.2,112.0 L364.1,110.4 L364.9,110.2 L365.8,105.7 L366.6,112.3 L367.5,111.9 L368.3,107.3 L369.2,108.1 L370.0,106.2 L370.9,103.0 L371.7,102.2 L372.6,100.0 L373.4,99.1 L374.3,102.4 L375.1,103.3 L376.0,102.7 L376.8,102.8 L377.7,95.4 L378.5,96.5 L379.4,96.9 L380.2,99.1 L381.1,96.0 L381.9,101.8 L382.8,96.4 L383.6,96.8 L384.5,99.4 L385.3,94.3 L386.2,95.3 L387.0,99.5 L387.9,98.9 L388.7,97.3 L389.6,96.3 L390.4,98.3 L391.3,95.6 L392.1,102.4 L393.0,101.7 L393.8,102.1 L394.7,106.1 L395.5,105.3 L396.4,105.1 L397.2,104.8 L398.1,104.6 L398.9,100.4 L399.8,96.4 L400.6,101.0 L401.5,101.6 L402.3,99.6 L403.2,103.9 L404.0,99.9 L404.9,100.5 L405.7,102.5 L406.6,97.7 L407.4,97.0 L408.3,98.7 L409.1,96.2 L410.0,97.0 L410.8,97.2 L411.7,94.3 L412.5,96.7 L413.4,97.5 L414.2,95.4 L415.1,97.7 L415.9,99.7 L416.8,97.8 L417.6,100.1 L418.5,102.9 L419.3,97.1 L420.2,94.7 L421.0,95.1 L421.9,97.0 L422.7,102.2 L423.6,99.9 L424.4,97.7 L425.3,94.2 L426.1,98.4 L427.0,102.8 L427.8,97.4 L428.7,101.4 L429.5,100.9 L430.4,101.2 L431.2,100.4 L432.1,101.7 L432.9,103.7 L433.8,100.7 L434.6,100.2 L435.5,97.7 L436.3,98.7 L437.2,97.9 L438.0,100.9 L438.9,94.0 L439.7,102.9 L440.6,99.5 L441.4,101.9 L442.3,100.0 L443.1,105.9 L444.0,101.7 L444.8,99.1 L445.7,103.2 L446.5,102.9 L447.4,100.8 L448.2,100.5 L449.1,104.9 L449.9,96.6 L450.8,97.0 L451.6,100.6 L452.5,104.7 L453.3,98.7 L454.2,101.2 L455.0,101.2 L455.9,103.9 L456.7,101.4 L457.6,100.3 L458.4,98.6 L459.3,98.1 L460.1,103.8 L461.0,105.1 L461.8,100.9 L462.7,99.4 L463.5,104.7 L464.4,99.3 L465.2,100.3 L466.1,105.9 L466.9,105.9 L467.8,107.9 L468.6,104.2 L469.5,104.4 L470.3,104.0 L471.2,106.0 L472.0,104.4 L472.9,104.5 L473.7,104.8 L474.6,103.0 L475.4,101.3 L476.3,104.5 L477.1,103.8 L478.0,104.6 L478.8,103.2 L479.7,102.6 L480.5,103.2 L481.4,99.9 L482.2,105.3 L483.1,103.5 L483.9,102.3 L484.8,106.1 L485.6,102.6 L486.5,103.9 L487.3,101.7 L488.2,100.6 L489.0,102.1 L489.9,108.0 L490.7,108.0 L491.6,104.4 L492.4,107.2 L493.3,104.6 L494.1,106.8 L495.0,103.7 L495.8,104.0 L496.7,108.1 L497.5,108.5 L498.4,109.4 L499.2,110.9 L500.1,109.0 L500.9,107.2 L501.8,108.3 L502.6,106.4 L503.5,104.5 L504.3,109.9 L505.2,106.8 L506.0,107.9 L506.9,109.1 L507.7,110.0 L508.6,109.3 L509.4,106.4 L510.3,110.6 L511.1,104.3 L512.0,108.1 L512.8,103.3 L513.7,105.3 L514.5,107.0 L515.4,106.1 L516.2,103.7 L517.1,106.2 L517.9,105.7 L518.8,102.5 L519.6,107.6 L520.5,104.7 L521.3,103.7 L522.2,101.1 L523.0,105.5 L523.9,108.6 L524.7,106.4 L525.6,106.3 L526.4,105.4 L527.3,104.7 L528.1,106.2 L529.0,104.6 L529.8,107.4 L530.7,107.3 L531.5,105.3 L532.4,106.2 L533.2,105.6 L534.1,103.8 L534.9,105.6 L535.8,105.1 L536.6,104.6 L537.5,104.9 L538.3,104.9 L539.2,108.0 L540.0,106.8 L540.9,106.0 L541.7,107.5 L542.6,105.5 L543.4,102.4 L544.3,105.2 L545.1,107.1 L546.0,107.2 L546.8,105.5 L547.7,107.1 L548.5,104.6 L549.4,105.1 L550.2,105.3 L551.1,108.3 L551.9,107.2 L552.8,108.4 L553.6,109.7 L554.5,108.1 L555.3,105.4 L556.2,109.9 L557.0,109.5 L557.9,110.5 L558.7,109.4 L559.6,112.2 L560.4,111.0 L561.3,107.1 L562.1,111.1 L563.0,109.9 L563.8,107.5 L564.7,107.4 L565.5,108.0 L566.4,103.0 L567.2,108.4 L568.1,106.1 L568.9,109.2 L569.8,109.9 L570.6,105.1 L571.5,104.9 L572.3,104.7 L573.2,105.4 L574.0,105.2 L574.9,110.6 L575.7,108.3 L576.6,105.7 L577.4,108.7 L578.3,107.4 L579.1,107.8 L580.0,108.6 L580.8,105.9 L581.7,106.6 L582.5,106.3 L583.4,106.6 L584.2,109.3 L585.1,109.8 L585.9,102.3 L586.8,111.0 L587.6,108.9 L588.5,104.4 L589.3,108.1 L590.2,103.0 L591.0,104.6 L591.9,101.1 L592.7,106.7 L593.6,101.6 L594.4,101.5 L595.3,105.0 L596.1,106.3 L597.0,106.0 L597.8,107.8 L598.7,107.3 L599.5,105.0 L600.4,108.0 L601.2,108.4 L602.1,103.5 L602.9,102.4 L603.8,101.1 L604.6,101.9 L605.5,107.2 L606.3,108.1 L607.2,101.2 L608.0,106.9 L608.9,99.0 L609.7,100.2 L610.6,101.2 L611.4,106.6 L612.3,101.9 L613.1,103.2 L614.0,102.3 L614.8,101.1 L615.7,101.9 L616.5,101.9 L617.4,102.7 L618.2,102.5 L619.1,109.4 L619.9,100.9 L620.8,104.4 L621.6,101.7 L622.5,106.3 L623.3,106.3 L624.2,103.2 L625.0,106.3 L625.9,101.6 L626.7,103.7 L627.6,106.1 L628.4,103.1 L629.3,107.8 L630.1,108.7 L631.0,109.2 L631.8,106.8 L632.7,103.2 L633.5,99.1 L634.4,101.5 L635.2,98.8 L636.1,101.1 L636.9,102.9 L637.8,104.7 L638.6,100.5 L639.5,104.0 L640.3,102.2 L641.2,99.1 L642.0,103.3 L642.9,104.1 L643.7,104.1 L644.6,105.0 L645.4,108.7 L646.3,103.9 L647.1,102.2 L648.0,103.5 L648.8,103.5 L649.7,102.1 L650.5,104.2 L651.4,104.0 L652.2,105.2 L653.1,103.7 L653.9,106.5 L654.8,101.0 L655.6,105.1 L656.5,98.4 L657.3,100.1 L658.2,100.0 L659.0,104.8 L659.9,99.7 L660.7,103.1 L661.6,101.9 L662.4,99.1 L663.3,103.1 L664.1,100.0 L665.0,99.3 L665.8,101.7 L666.7,100.5 L667.5,98.9 L668.4,98.2 L669.2,102.7 L670.1,94.9 L670.9,97.0 L671.8,96.5 L672.6,96.0 L673.5,93.1 L674.3,95.4 L675.2,95.3 L676.0,94.8 L676.9,93.5 L677.7,93.6 L678.6,95.5 L679.4,92.7 L680.3,94.8 L681.1,93.8 L682.0,97.9 L682.8,93.1 L683.7,94.6 L684.5,92.3 L685.4,93.7 L686.2,93.5 L687.1,96.1 L687.9,91.6 L688.8,94.6 L689.6,91.7 L690.5,93.8 L691.3,92.2 L692.2,94.1 L693.0,91.8 L693.9,94.3 L694.7,94.9 L695.6,93.8 L696.4,96.7 L697.3,96.4 L698.1,93.3 L699.0,94.6 L699.8,89.4 L700.7,89.7 L701.5,87.8 L702.4,92.1 L703.2,94.4 L704.1,94.5 L704.9,94.7 L705.8,93.4 L706.6,94.4 L707.5,91.3 L708.3,92.2 L709.2,94.6 L710.0,92.8 L710.9,94.1 L711.7,97.7 L712.6,95.6 L713.4,98.2 L714.3,99.0 L715.1,105.2 L716.0,100.5 L716.8,101.2 L717.7,104.6 L718.5,105.2 L719.4,103.7 L720.2,102.2 L721.1,106.4 L721.9,106.3 L722.8,107.9 L723.6,106.2 L724.5,105.7 L725.3,106.7 L726.2,109.1 L727.0,108.6 L727.9,107.1 L728.7,105.2 L729.6,105.2 L730.4,106.7 L731.3,108.3 L732.1,108.6 L733.0,103.6 L733.8,105.6 L734.7,108.5 L735.5,103.9 L736.4,107.1 L737.2,105.3 L738.1,103.8 L738.9,110.9 L739.8,108.9 L740.6,112.9 L741.5,110.7 L742.3,114.0 L743.2,117.9 L744.0,116.8 L744.9,117.0 L745.7,119.4 L746.6,114.7 L747.4,116.9 L748.3,116.6 L749.1,117.3 L750.0,108.1 L750.8,109.3 L751.7,109.6 L752.5,109.2 L753.4,105.9 L754.2,104.3 L755.1,104.5 L755.9,103.4 L756.8,108.9 L757.6,101.8 L758.5,105.3 L759.3,107.4 L760.2,107.2 L761.0,106.3 L761.9,109.6 L762.7,108.4 L763.6,106.3 L764.4,104.5 L765.3,102.5 L766.1,102.0 L767.0,105.9 L767.8,106.0 L768.7,104.9 L769.5,105.5 L770.4,104.8 L771.2,103.8 L772.1,107.2 L772.9,100.1 L773.8,103.0 L774.6,105.4 L775.5,105.7 L776.3,101.5 L777.2,103.5 L778.0,103.2 L778.9,102.4 L779.7,103.3 L780.6,100.7 L781.4,102.6 L782.3,105.9 L783.1,105.3 L784.0,99.8 L784.8,104.6 L785.7,103.8 L786.5,106.0 L787.4,105.0 L788.2,113.1 L789.1,108.3 L789.9,107.4 L790.8,107.8 L791.6,107.8 L792.5,101.7 L793.3,96.1 L794.2,102.8 L795.0,101.0 L795.9,100.0 L796.7,100.4 L797.6,97.2 L798.4,99.6 L799.3,98.3 L800.1,100.2 L801.0,98.7 L801.8,102.3 L802.7,100.6 L803.5,101.7 L804.4,105.0 L805.2,112.7 L806.1,112.4 L806.9,107.1 L807.8,100.6 L808.6,103.2 L809.5,105.3 L810.3,112.6 L811.2,113.1 L812.0,109.8 L812.9,103.9 L813.7,106.5 L814.6,105.6 L815.4,101.2 L816.3,98.8 L817.1,100.2 L818.0,97.9 L818.8,100.2 L819.7,95.7 L820.5,96.3 L821.4,98.1 L822.2,101.7 L823.1,97.2 L823.9,95.3 L824.8,99.1 L825.6,99.8 L826.5,102.4 L827.3,105.2 L828.2,102.8 L829.0,102.7 L829.9,101.4 L830.7,96.9 L831.6,95.7 L832.4,96.2 L833.3,100.0 L834.1,99.8 L835.0,101.7 L835.8,102.7 L836.7,101.6 L837.5,104.2 L838.4,99.7 L839.2,107.3 L840.1,105.7 L840.9,106.7 L841.8,109.9 L842.6,111.7 L843.5,113.1 L844.3,109.8 L845.2,113.1 L846.0,113.2 L846.9,108.9 L847.7,109.5 L848.6,108.5 L849.4,111.4 L850.3,109.4 L851.1,105.4 L852.0,102.6 L852.8,104.0 L853.7,106.0 L854.5,101.1 L855.4,102.8 L856.2,101.4 L857.1,104.6 L857.9,103.1 L858.8,101.7 L859.6,101.8 L860.5,101.8 L861.3,103.5 L862.2,103.1 L863.0,101.8 L863.9,102.2 L864.7,100.9" stroke="#9467bd"/>
<path d="M160.2,125.9 L161.0,130.8 L161.9,132.2 L162.7,131.0 L163.6,128.9 L164.4,130.8 L165.3,132.9 L166.1,134.2 L167.0,131.1 L167.8,128.7 L168.7,132.3 L169.5,130.5 L170.4,132.0 L171.2,132.6 L172.1,128.8 L172.9,129.0 L173.8,128.1 L174.6,130.9 L175.5,128.7 L176.3,131.0 L177.2,130.7 L178.0,131.5 L178.9,132.0 L179.7,133.6 L180.6,131.7 L181.4,134.4 L182.3,135.5 L183.1,135.9 L184.0,136.3 L184.8,136.5 L185.7,135.2 L186.5,136.3 L187.4,136.2 L188.2,133.8 L189.1,137.9 L189.9,138.8 L190.8,134.8 L191.6,140.2 L192.5,137.5 L193.3,136.6 L194.2,136.7 L195.0,137.2 L195.9,135.4 L196.7,134.1 L197.6,136.9 L198.4,136.9 L199.3,133.2 L200.1,135.2 L201.0,133.9 L201.8,134.3 L202.7,132.6 L203.5,133.5 L204.4,134.6 L205.2,133.3 L206.1,138.6 L206.9,136.8 L207.8,136.6 L208.6,138.8 L209.5,135.0 L210.3,134.7 L211.2,133.6 L212.0,132.4 L212.9,139.1 L213.7,136.1 L214.6,134.1 L215.4,137.3 L216.3,137.4 L217.1,134.8 L218.0,136.2 L218.8,138.6 L219.7,138.2 L220.5,137.3 L221.4,134.7 L222.2,139.7 L223.1,140.3 L223.9,137.0 L224.8,136.0 L225.6,138.1 L226.5,138.0 L227.3,137.2 L228.2,134.0 L229.0,133.1 L229.9,132.6 L230.7,132.1 L231.6,131.6 L232.4,133.0 L233.3,131.7 L234.1,132.4 L235.0,133.9 L235.8,135.4 L236.7,135.8 L237.5,145.6 L238.0,149.3 L238.4,156.7 L238.8,172.3 L239.2,152.9 L239.8,134.3 L240.9,131.0 L241.8,130.6 L242.6,130.8 L243.5,132.0 L244.3,129.6 L245.2,131.5 L246.0,130.4 L246.9,131.0 L247.7,128.8 L248.6,129.0 L249.4,131.4 L250.3,130.7 L251.1,130.8 L252.0,132.2 L252.8,127.7 L253.7,131.3 L254.5,132.7 L255.4,129.2 L256.2,129.4 L257.1,127.8 L257.9,128.6 L258.8,128.2 L259.6,130.0 L260.5,132.2 L261.3,132.9 L262.2,137.8 L263.0,150.7 L263.4,138.8 L263.8,153.3 L264.1,145.4 L264.5,152.7 L265.0,147.1 L265.6,148.7 L265.9,157.0 L266.3,157.2 L266.6,172.4 L267.0,172.7 L267.4,170.7 L267.7,151.9 L268.1,157.6 L268.4,137.3 L269.0,124.7 L269.5,131.3 L269.9,114.7 L270.2,123.0 L270.6,120.4 L271.0,134.2 L271.3,129.4 L271.7,147.5 L272.0,135.9 L272.4,145.8 L272.8,139.2 L273.1,145.5 L273.5,139.9 L273.8,139.0 L274.2,132.1 L274.6,144.7 L274.9,131.3 L275.3,145.0 L275.7,155.8 L276.0,149.2 L276.4,151.5 L276.7,164.8 L277.1,164.1 L277.5,150.5 L278.0,149.9 L278.5,146.2 L278.9,142.5 L279.3,134.1 L279.6,127.4 L280.0,133.5 L280.7,137.2 L281.1,135.8 L281.4,146.4 L282.0,148.7 L282.5,141.7 L282.9,143.4 L283.2,148.4 L283.6,147.6 L283.9,140.1 L284.3,138.9 L284.7,141.5 L285.0,146.5 L285.4,152.2 L285.7,137.9 L286.1,139.9 L286.9,139.8 L287.8,136.0 L288.2,138.5 L288.5,132.8 L288.9,132.3 L289.2,132.3 L289.6,132.9 L290.0,135.1 L290.3,133.3 L290.7,133.0 L291.0,132.1 L291.4,135.4 L291.8,137.4 L292.1,132.5 L292.5,128.9 L292.8,127.0 L293.2,132.9 L293.6,131.5 L293.9,126.7 L294.3,127.5 L294.6,128.9 L295.0,130.6 L295.4,125.7 L295.7,128.4 L296.1,127.9 L296.4,128.7 L296.8,126.0 L297.2,122.1 L297.5,128.9 L297.9,125.7 L298.2,126.5 L298.6,128.9 L299.0,129.1 L299.3,131.7 L299.7,130.5 L300.0,125.4 L300.9,129.0 L301.7,128.2 L302.1,138.8 L302.5,134.9 L302.8,150.8 L303.2,138.6 L303.5,149.2 L303.9,159.1 L304.3,173.4 L304.6,169.3 L305.0,164.1 L306.0,127.0 L306.4,137.1 L307.0,154.3 L307.5,161.9 L307.9,158.1 L308.2,165.0 L308.6,169.9 L308.9,179.7 L309.3,170.8 L309.7,164.4 L310.0,174.9 L310.4,172.4 L310.7,170.6 L311.1,146.1 L311.5,150.9 L311.8,134.9 L312.2,130.9 L313.0,127.6 L313.9,131.7 L314.7,127.0 L315.6,126.7 L316.4,127.0 L317.3,130.2 L318.1,127.1 L318.5,133.8 L318.8,138.6 L319.2,143.2 L319.6,144.7 L319.9,145.4 L320.3,153.5 L320.6,147.1 L321.0,149.3 L321.4,146.9 L321.7,155.9 L322.1,146.1 L322.4,150.0 L322.8,141.7 L323.2,151.0 L323.5,155.2 L323.9,150.7 L324.2,146.6 L324.6,149.0 L325.0,156.0 L325.3,157.0 L325.7,152.0 L326.0,148.6 L326.4,152.1 L326.8,152.6 L327.1,152.8 L327.5,155.4 L327.8,148.8 L328.2,143.6 L328.6,154.2 L328.9,142.2 L329.3,145.1 L329.6,145.6 L330.0,139.4 L330.4,154.8 L330.7,155.7 L331.1,156.2 L331.5,163.8 L332.2,147.7 L333.0,128.5 L333.9,127.3 L334.7,124.7 L335.6,127.1 L336.4,128.3 L337.3,128.7 L338.1,129.7 L339.0,128.6 L339.8,128.6 L340.7,132.7 L341.5,133.7 L342.4,136.1 L343.2,139.0 L343.6,138.4 L343.9,146.5 L344.3,140.8 L344.7,138.8 L345.0,146.1 L345.4,133.7 L345.7,150.5 L346.1,133.4 L346.5,141.8 L346.8,140.7 L347.2,144.4 L347.5,141.8 L347.9,142.8 L348.3,149.2 L348.6,129.8 L349.0,128.3 L349.3,116.9 L349.7,128.8 L350.1,127.9 L350.5,120.2 L351.1,140.1 L351.5,150.1 L352.0,157.9 L352.6,139.3 L352.9,141.3 L353.5,130.0 L354.1,128.7 L355.0,135.8 L355.8,135.4 L356.7,135.7 L357.5,136.7 L358.4,133.7 L359.2,137.4 L360.1,136.9 L360.9,135.6 L361.8,135.5 L362.6,139.0 L363.5,139.9 L364.3,143.9 L365.2,139.2 L366.0,143.2 L366.9,143.0 L367.7,143.0 L368.6,140.4 L369.4,142.9 L370.3,144.7 L371.1,136.9 L371.5,124.0 L371.9,128.8 L372.2,124.1 L372.6,122.9 L373.0,122.0 L373.7,138.6 L374.0,153.3 L374.5,176.7 L375.1,164.1 L375.5,146.7 L376.0,133.8 L376.5,135.0 L376.9,138.5 L377.3,137.8 L377.6,145.5 L378.0,142.5 L378.3,154.9 L378.7,144.3 L379.1,154.9 L379.4,168.7 L379.8,160.9 L380.1,159.9 L380.5,154.4 L380.9,161.0 L381.2,158.2 L382.1,162.5 L382.9,157.9 L383.8,156.8 L384.6,155.1 L385.5,152.7 L386.3,150.5 L386.7,146.4 L387.0,162.5 L387.4,141.6 L387.8,145.1 L388.1,142.1 L388.5,158.3 L389.0,153.5 L389.6,169.8 L389.9,172.5 L390.3,164.1 L390.6,187.7 L391.0,185.1 L391.4,173.5 L391.7,181.5 L392.1,163.7 L392.4,159.3 L393.0,136.8 L394.0,133.0 L394.9,133.0 L395.7,133.0 L396.6,129.1 L397.4,128.7 L398.3,137.9 L398.6,133.0 L399.0,128.3 L399.3,129.3 L399.7,125.4 L400.1,142.9 L400.4,131.0 L400.8,119.0 L401.1,131.5 L401.5,126.9 L401.9,126.1 L402.2,132.3 L402.6,122.7 L402.9,117.8 L403.3,125.2 L403.7,116.8 L404.0,124.8 L404.4,116.6 L404.7,132.8 L405.1,129.0 L405.5,122.4 L405.8,133.8 L406.2,122.7 L406.5,127.2 L406.9,140.5 L407.3,130.8 L407.6,139.3 L408.0,143.8 L408.3,153.4 L408.7,151.8 L409.1,149.3 L409.4,153.5 L409.8,145.2 L410.1,140.5 L410.5,146.0 L410.9,151.3 L411.2,147.8 L411.6,146.2 L411.9,151.1 L412.3,151.2 L412.7,148.5 L413.0,163.9 L413.4,155.8 L413.7,156.4 L414.1,160.1 L415.0,157.0 L415.8,155.9 L416.7,159.1 L417.5,157.8 L418.4,163.7 L419.2,161.9 L420.1,159.2 L420.9,163.1 L421.8,161.8 L422.6,165.0 L423.5,159.8 L424.3,163.9 L425.2,166.1 L426.0,165.7 L426.9,163.6 L427.7,161.2 L428.6,163.2 L429.4,165.8 L430.3,161.4 L431.1,164.1 L432.0,165.4 L432.8,167.1 L433.7,169.4 L434.5,172.1 L435.4,167.3 L436.2,166.4 L437.1,164.7 L437.9,164.7 L438.8,163.1 L439.6,162.6 L440.5,164.7 L441.3,163.3 L442.2,165.0 L443.0,161.3 L443.9,162.1 L444.7,159.2 L445.6,161.2 L446.4,164.3 L447.3,157.7 L448.1,160.9 L449.0,165.7 L449.8,158.9 L450.7,158.7 L451.5,161.9 L452.4,163.6 L453.2,162.4 L454.1,161.6 L454.9,164.3 L455.8,160.4 L456.6,162.3 L457.5,159.4 L458.3,160.5 L459.2,162.1 L460.0,162.2 L460.9,163.3 L461.7,161.7 L462.6,165.4 L463.4,165.5 L464.3,164.9 L465.1,170.4 L466.0,172.5 L466.8,165.4 L467.7,174.1 L468.5,175.2 L469.4,173.7 L470.2,170.7 L471.1,169.8 L471.9,170.0 L472.8,172.7 L473.6,173.8 L474.5,170.8 L475.3,171.4 L476.2,173.5 L477.0,172.7 L477.9,173.8 L478.7,173.5 L479.6,172.6 L480.4,174.4 L481.3,172.8 L482.1,176.4 L483.0,173.5 L483.8,176.2 L484.7,177.0 L485.5,176.1 L486.4,175.1 L487.2,176.6 L488.1,175.2 L488.9,176.7 L489.8,175.3 L490.6,179.5 L491.5,182.5 L492.3,179.6 L493.2,179.5 L494.0,176.4 L494.9,177.2 L495.7,175.3 L496.6,176.8 L497.4,177.3 L498.3,174.4 L499.1,176.8 L500.0,176.5 L500.8,173.6 L501.7,176.6 L502.5,175.4 L503.4,175.5 L504.2,174.4 L505.1,178.0 L505.9,177.5 L506.8,179.7 L507.6,179.1 L508.5,178.7 L509.3,180.2 L510.2,180.9 L511.0,182.8 L511.9,179.8 L512.7,181.5 L513.6,182.7 L514.4,184.3 L515.3,182.3 L516.1,175.4 L517.0,178.7 L517.8,182.4 L518.7,177.0 L519.5,178.7 L520.4,177.6 L521.2,174.5 L522.1,177.1 L522.9,174.8 L523.8,177.6 L524.6,180.9 L525.5,173.6 L526.3,175.5 L527.2,176.1 L528.0,174.2 L528.9,176.9 L529.7,176.0 L530.6,173.4 L531.4,174.9 L532.3,178.3 L533.1,177.9 L534.0,174.1 L534.8,176.0 L535.7,175.2 L536.5,175.3 L537.4,171.6 L538.2,172.5 L539.1,175.1 L539.9,175.3 L540.8,174.7 L541.6,174.0 L542.5,170.3 L543.3,171.7 L544.2,170.3 L545.0,171.7 L545.9,176.0 L546.7,171.2 L547.6,175.3 L548.4,177.5 L549.3,176.1 L550.1,178.4 L551.0,180.7 L551.8,179.9 L552.7,182.1 L553.5,182.0 L554.4,179.2 L555.2,183.5 L556.1,182.1 L556.9,183.4 L557.8,186.1 L558.6,182.2 L559.5,180.3 L560.3,182.7 L561.2,179.0 L562.0,177.4 L562.9,180.1 L563.7,179.7 L564.6,183.4 L565.4,181.7 L566.3,184.1 L567.1,183.6 L568.0,177.2 L568.8,181.5 L569.7,179.0 L570.5,179.9 L571.4,178.5 L572.2,178.5 L573.1,176.4 L573.9,179.3 L574.8,175.8 L575.6,176.8 L576.5,181.7 L577.3,180.2 L578.2,179.2 L579.0,183.0 L579.9,181.7 L580.7,178.8 L581.6,177.5 L582.4,179.6 L583.3,180.4 L584.1,184.0 L585.0,179.0 L585.8,174.3 L586.7,177.6 L587.5,173.5 L588.4,174.9 L589.2,174.7 L590.1,173.0 L590.9,173.7 L591.8,175.3 L592.6,177.3 L593.5,173.2 L594.3,173.0 L595.2,171.8 L596.0,171.4 L596.9,172.5 L597.7,168.3 L598.6,170.9 L599.4,170.3 L600.3,172.0 L601.1,173.7 L602.0,171.5 L602.8,170.4 L603.7,167.6 L604.5,171.0 L605.4,170.5 L606.2,168.9 L607.1,169.1 L607.9,171.2 L608.8,169.3 L609.6,167.6 L610.5,172.6 L611.3,169.8 L612.2,169.7 L613.0,172.3 L613.9,171.8 L614.7,171.6 L615.6,170.3 L616.4,170.0 L617.3,172.7 L618.1,169.2 L619.0,173.5 L619.8,174.1 L620.7,172.1 L621.5,172.3 L622.4,178.9 L623.2,173.7 L624.1,174.1 L624.9,177.7 L625.8,179.4 L626.6,177.2 L627.5,175.7 L628.3,178.4 L629.2,180.9 L630.0,179.7 L630.9,180.5 L631.7,182.7 L632.6,180.6 L633.4,182.7 L634.3,180.6 L635.1,181.3 L636.0,178.0 L636.8,180.1 L637.7,180.4 L638.5,178.7 L639.4,180.2 L640.2,178.2 L641.1,177.3 L641.9,174.8 L642.8,178.1 L643.6,177.7 L644.5,175.2 L645.3,176.2 L646.2,178.3 L647.0,177.0 L647.9,173.1 L648.7,171.7 L649.6,172.6 L650.4,170.9 L651.3,169.4 L652.1,166.4 L653.0,172.1 L653.8,172.1 L654.7,173.6 L655.5,174.2 L656.4,175.8 L657.2,176.4 L658.1,170.6 L658.9,177.5 L659.8,179.4 L660.6,179.3 L661.5,184.9 L662.3,187.8 L662.7,190.8 L663.0,188.6 L663.4,203.8 L663.7,201.8 L664.1,202.8 L664.5,195.8 L664.8,193.8 L665.2,195.2 L665.5,194.8 L665.9,191.2 L666.3,186.3 L666.6,188.4 L667.0,185.8 L667.3,194.4 L667.7,212.5 L668.1,214.4 L668.4,205.2 L669.0,199.7 L669.6,224.5 L670.4,205.9 L671.0,254.7 L672.0,206.2 L672.4,192.0 L672.7,178.0 L673.1,170.7 L673.5,152.9 L673.8,146.8 L674.2,147.4 L674.5,152.2 L674.9,148.6 L675.3,149.4 L675.8,151.9 L676.3,155.6 L676.7,152.3 L677.1,166.6 L677.4,164.3 L677.8,179.1 L678.5,158.2 L679.0,148.7 L679.6,130.0 L680.3,163.8 L680.8,197.2 L681.4,170.6 L681.7,155.1 L682.2,137.8 L682.8,129.0 L683.2,117.9 L683.5,125.4 L683.9,122.2 L684.3,113.2 L684.6,111.3 L685.0,139.7 L685.3,156.7 L685.7,162.7 L686.1,167.2 L686.4,167.2 L687.0,173.2 L687.5,157.2 L687.9,159.7 L688.2,141.7 L688.6,139.0 L689.3,158.9 L689.7,155.2 L690.2,156.1 L690.7,160.1 L691.1,156.6 L691.5,156.9 L691.8,157.2 L692.2,163.1 L692.5,153.0 L692.9,167.6 L693.3,156.7 L693.6,157.5 L694.0,155.4 L694.3,150.3 L694.7,148.2 L695.1,141.5 L695.4,154.2 L695.8,152.4 L696.1,152.3 L696.5,155.1 L696.9,164.2 L697.2,161.8 L697.6,162.2 L697.9,167.5 L698.3,168.0 L698.7,165.2 L699.0,162.3 L699.4,143.6 L699.7,143.5 L700.1,143.9 L700.5,145.9 L700.8,139.3 L701.4,132.8 L701.9,149.8 L702.3,152.1 L702.6,166.0 L703.0,164.1 L703.7,153.3 L704.1,158.8 L704.6,145.2 L705.1,145.6 L705.5,144.0 L705.9,156.2 L706.2,153.5 L706.6,150.0 L706.9,155.2 L707.3,161.5 L707.7,147.2 L708.0,162.5 L708.4,152.5 L708.7,154.1 L709.1,145.1 L709.5,135.7 L709.8,142.8 L710.2,133.8 L710.5,151.9 L710.9,138.0 L711.3,152.4 L711.6,163.9 L712.0,171.0 L712.3,156.4 L712.7,166.1 L713.1,158.7 L713.4,155.3 L713.8,157.6 L714.1,156.5 L714.5,153.3 L714.9,156.0 L715.2,153.0 L715.6,171.5 L715.9,158.0 L716.3,182.1 L716.7,163.6 L717.0,167.9 L717.4,159.1 L717.7,157.9 L718.1,160.8 L718.5,154.2 L718.8,152.5 L719.2,148.6 L719.5,148.4 L719.9,145.5 L720.3,146.4 L721.1,144.1 L722.0,137.5 L722.8,135.3 L723.7,133.7 L724.5,133.8 L725.4,133.5 L726.2,136.9 L727.1,136.6 L727.9,136.6 L728.8,138.1 L729.6,137.2 L730.5,137.9 L731.3,135.0 L732.2,135.2 L733.0,136.6 L733.9,138.0 L734.7,132.9 L735.6,132.5 L736.4,135.1 L737.3,137.8 L738.1,134.6 L739.0,138.2 L739.8,137.2 L740.7,138.6 L741.5,137.3 L742.4,136.5 L743.2,138.0 L744.1,140.1 L744.9,137.0 L745.8,135.6 L746.6,138.9 L747.5,140.1 L748.3,140.0 L749.2,140.9 L750.0,139.2 L750.9,140.4 L751.7,141.2 L752.6,141.2 L753.4,143.8 L754.3,143.5 L755.1,138.9 L756.0,138.9 L756.8,140.5 L757.7,139.3 L758.5,134.4 L759.4,134.2 L760.2,134.2 L761.1,134.2 L761.9,135.0 L762.8,137.8 L763.6,138.1 L764.5,136.2 L765.3,135.5 L766.2,135.0 L767.0,136.3 L767.9,130.1 L768.7,133.0 L769.6,133.6 L770.4,132.6 L771.3,135.7 L772.1,131.7 L773.0,137.9 L773.8,136.2 L774.7,135.3 L775.5,139.3 L776.4,136.9 L777.2,141.9 L778.1,140.5 L778.9,139.1 L779.8,141.3 L780.6,139.0 L781.5,138.0 L782.3,140.0 L783.2,139.5 L784.0,139.9 L784.9,144.0 L785.7,140.7 L786.6,139.8 L787.4,142.3 L788.3,143.7 L789.1,142.0 L790.0,141.1 L790.8,138.0 L791.7,141.5 L792.5,135.8 L793.4,139.9 L794.2,141.1 L795.1,142.7 L795.9,138.2 L796.8,143.4 L797.6,137.7 L798.5,144.5 L799.3,139.4 L800.2,139.4 L801.0,137.3 L801.9,140.7 L802.7,138.1 L803.6,141.4 L804.4,138.5 L805.3,141.1 L806.1,138.7 L807.0,141.0 L807.8,139.2 L808.7,144.0 L809.5,139.1 L810.4,135.4 L811.2,137.5 L812.1,135.8 L812.9,134.3 L813.8,136.2 L814.6,137.0 L815.5,135.6 L816.3,132.9 L817.2,133.7 L818.0,133.4 L818.9,133.9 L819.7,135.1 L820.6,135.0 L821.4,132.5 L822.3,131.5 L823.1,134.1 L824.0,131.8 L824.8,133.5 L825.7,132.0 L826.5,131.6 L827.4,136.7 L828.2,135.6 L829.1,137.0 L829.9,134.5 L830.8,135.9 L831.6,137.5 L832.5,134.1 L833.3,134.7 L834.2,134.1 L835.0,136.5 L835.9,134.8 L836.7,137.7 L837.6,132.8 L838.4,136.3 L839.3,140.2 L840.1,141.9 L841.0,141.1 L841.8,135.7 L842.7,139.9 L843.5,137.8 L844.4,139.2 L845.2,143.0 L846.1,142.7 L846.9,143.9 L847.8,142.4 L848.6,141.5 L849.5,143.6 L850.3,145.9 L851.2,147.1 L852.0,152.0 L852.9,147.4 L853.7,145.9 L854.6,149.5 L855.4,146.9 L856.3,144.8 L857.1,142.9 L858.0,143.4 L858.8,142.4 L859.7,142.0 L860.5,142.0 L861.4,140.6 L862.2,136.2 L863.1,139.4 L863.9,135.8 L864.8,138.2" stroke="#8c564b"/>
</g>
<rect x="125.5" y="60.5" width="775" height="385" fill="none" stroke="#000" stroke-width="1.1"/>
<g class="t"><line x1="246.50" y1="445.5" x2="246.50" y2="450.4"/><line x1="380.50" y1="445.5" x2="380.50" y2="450.4"/><line x1="515.50" y1="445.5" x2="515.50" y2="450.4"/><line x1="650.50" y1="445.5" x2="650.50" y2="450.4"/><line x1="784.50" y1="445.5" x2="784.50" y2="450.4"/><line x1="120.4" y1="387.50" x2="125.5" y2="387.50"/><line x1="120.4" y1="314.50" x2="125.5" y2="314.50"/><line x1="120.4" y1="242.50" x2="125.5" y2="242.50"/><line x1="120.4" y1="169.50" x2="125.5" y2="169.50"/><line x1="120.4" y1="96.50" x2="125.5" y2="96.50"/></g>
<g class="lab"><text x="220.60" y="466" textLength="50.6" lengthAdjust="spacingAndGlyphs">152500</text><text x="354.60" y="466" textLength="50.6" lengthAdjust="spacingAndGlyphs">153000</text><text x="489.60" y="466" textLength="50.6" lengthAdjust="spacingAndGlyphs">153500</text><text x="624.60" y="466" textLength="50.6" lengthAdjust="spacingAndGlyphs">154000</text><text x="758.60" y="466" textLength="50.6" lengthAdjust="spacingAndGlyphs">154500</text><text x="98.6" y="392.69" textLength="15.6" lengthAdjust="spacingAndGlyphs">10</text><text x="98.6" y="320.05" textLength="15.6" lengthAdjust="spacingAndGlyphs">20</text><text x="98.6" y="247.40" textLength="15.6" lengthAdjust="spacingAndGlyphs">30</text><text x="98.6" y="174.76" textLength="15.6" lengthAdjust="spacingAndGlyphs">40</text><text x="98.6" y="102.12" textLength="15.6" lengthAdjust="spacingAndGlyphs">50</text></g>
<text x="359.8" y="51.6" font-size="17px" textLength="304.2" lengthAdjust="spacingAndGlyphs">BX992 ant_0 BeiDou B1(BPSK(2)-B1)</text>
<text x="484" y="485.6" font-size="14.2px" textLength="56.6" lengthAdjust="spacingAndGlyphs">Time (s)</text>
<text transform="translate(88.6,289.8) rotate(-90)" font-size="14.2px" textLength="74" lengthAdjust="spacingAndGlyphs">CNo dB Hz</text>
<g class="leg">
<rect x="922.5" y="74.5" width="67" height="130" rx="2.8" ry="2.8" fill="#ffffff" fill-opacity="0.8" stroke="#cccccc" stroke-opacity="0.8" stroke-width="1.1"/>
<line x1="927" y1="86.50" x2="956" y2="86.50" stroke="#1f77b4" stroke-width="0.7"/><text x="966.4" y="90.00" textLength="17" lengthAdjust="spacingAndGlyphs">20</text><line x1="927" y1="107.50" x2="956" y2="107.50" stroke="#ff7f0e" stroke-width="0.7"/><text x="966.4" y="110.90" textLength="17" lengthAdjust="spacingAndGlyphs">27</text><line x1="927" y1="127.50" x2="956" y2="127.50" stroke="#2ca02c" stroke-width="0.7"/><text x="966.4" y="131.80" textLength="17" lengthAdjust="spacingAndGlyphs">29</text><line x1="927" y1="148.50" x2="956" y2="148.50" stroke="#d62728" stroke-width="0.7"/><text x="966.4" y="152.70" textLength="17" lengthAdjust="spacingAndGlyphs">30</text><line x1="927" y1="169.50" x2="956" y2="169.50" stroke="#9467bd" stroke-width="0.7"/><text x="966.4" y="173.60" textLength="17" lengthAdjust="spacingAndGlyphs">32</text><line x1="927" y1="190.50" x2="956" y2="190.50" stroke="#8c564b" stroke-width="0.7"/><text x="966.4" y="194.50" textLength="17" lengthAdjust="spacingAndGlyphs">41</text>
</g>
</svg>
</body></html>
